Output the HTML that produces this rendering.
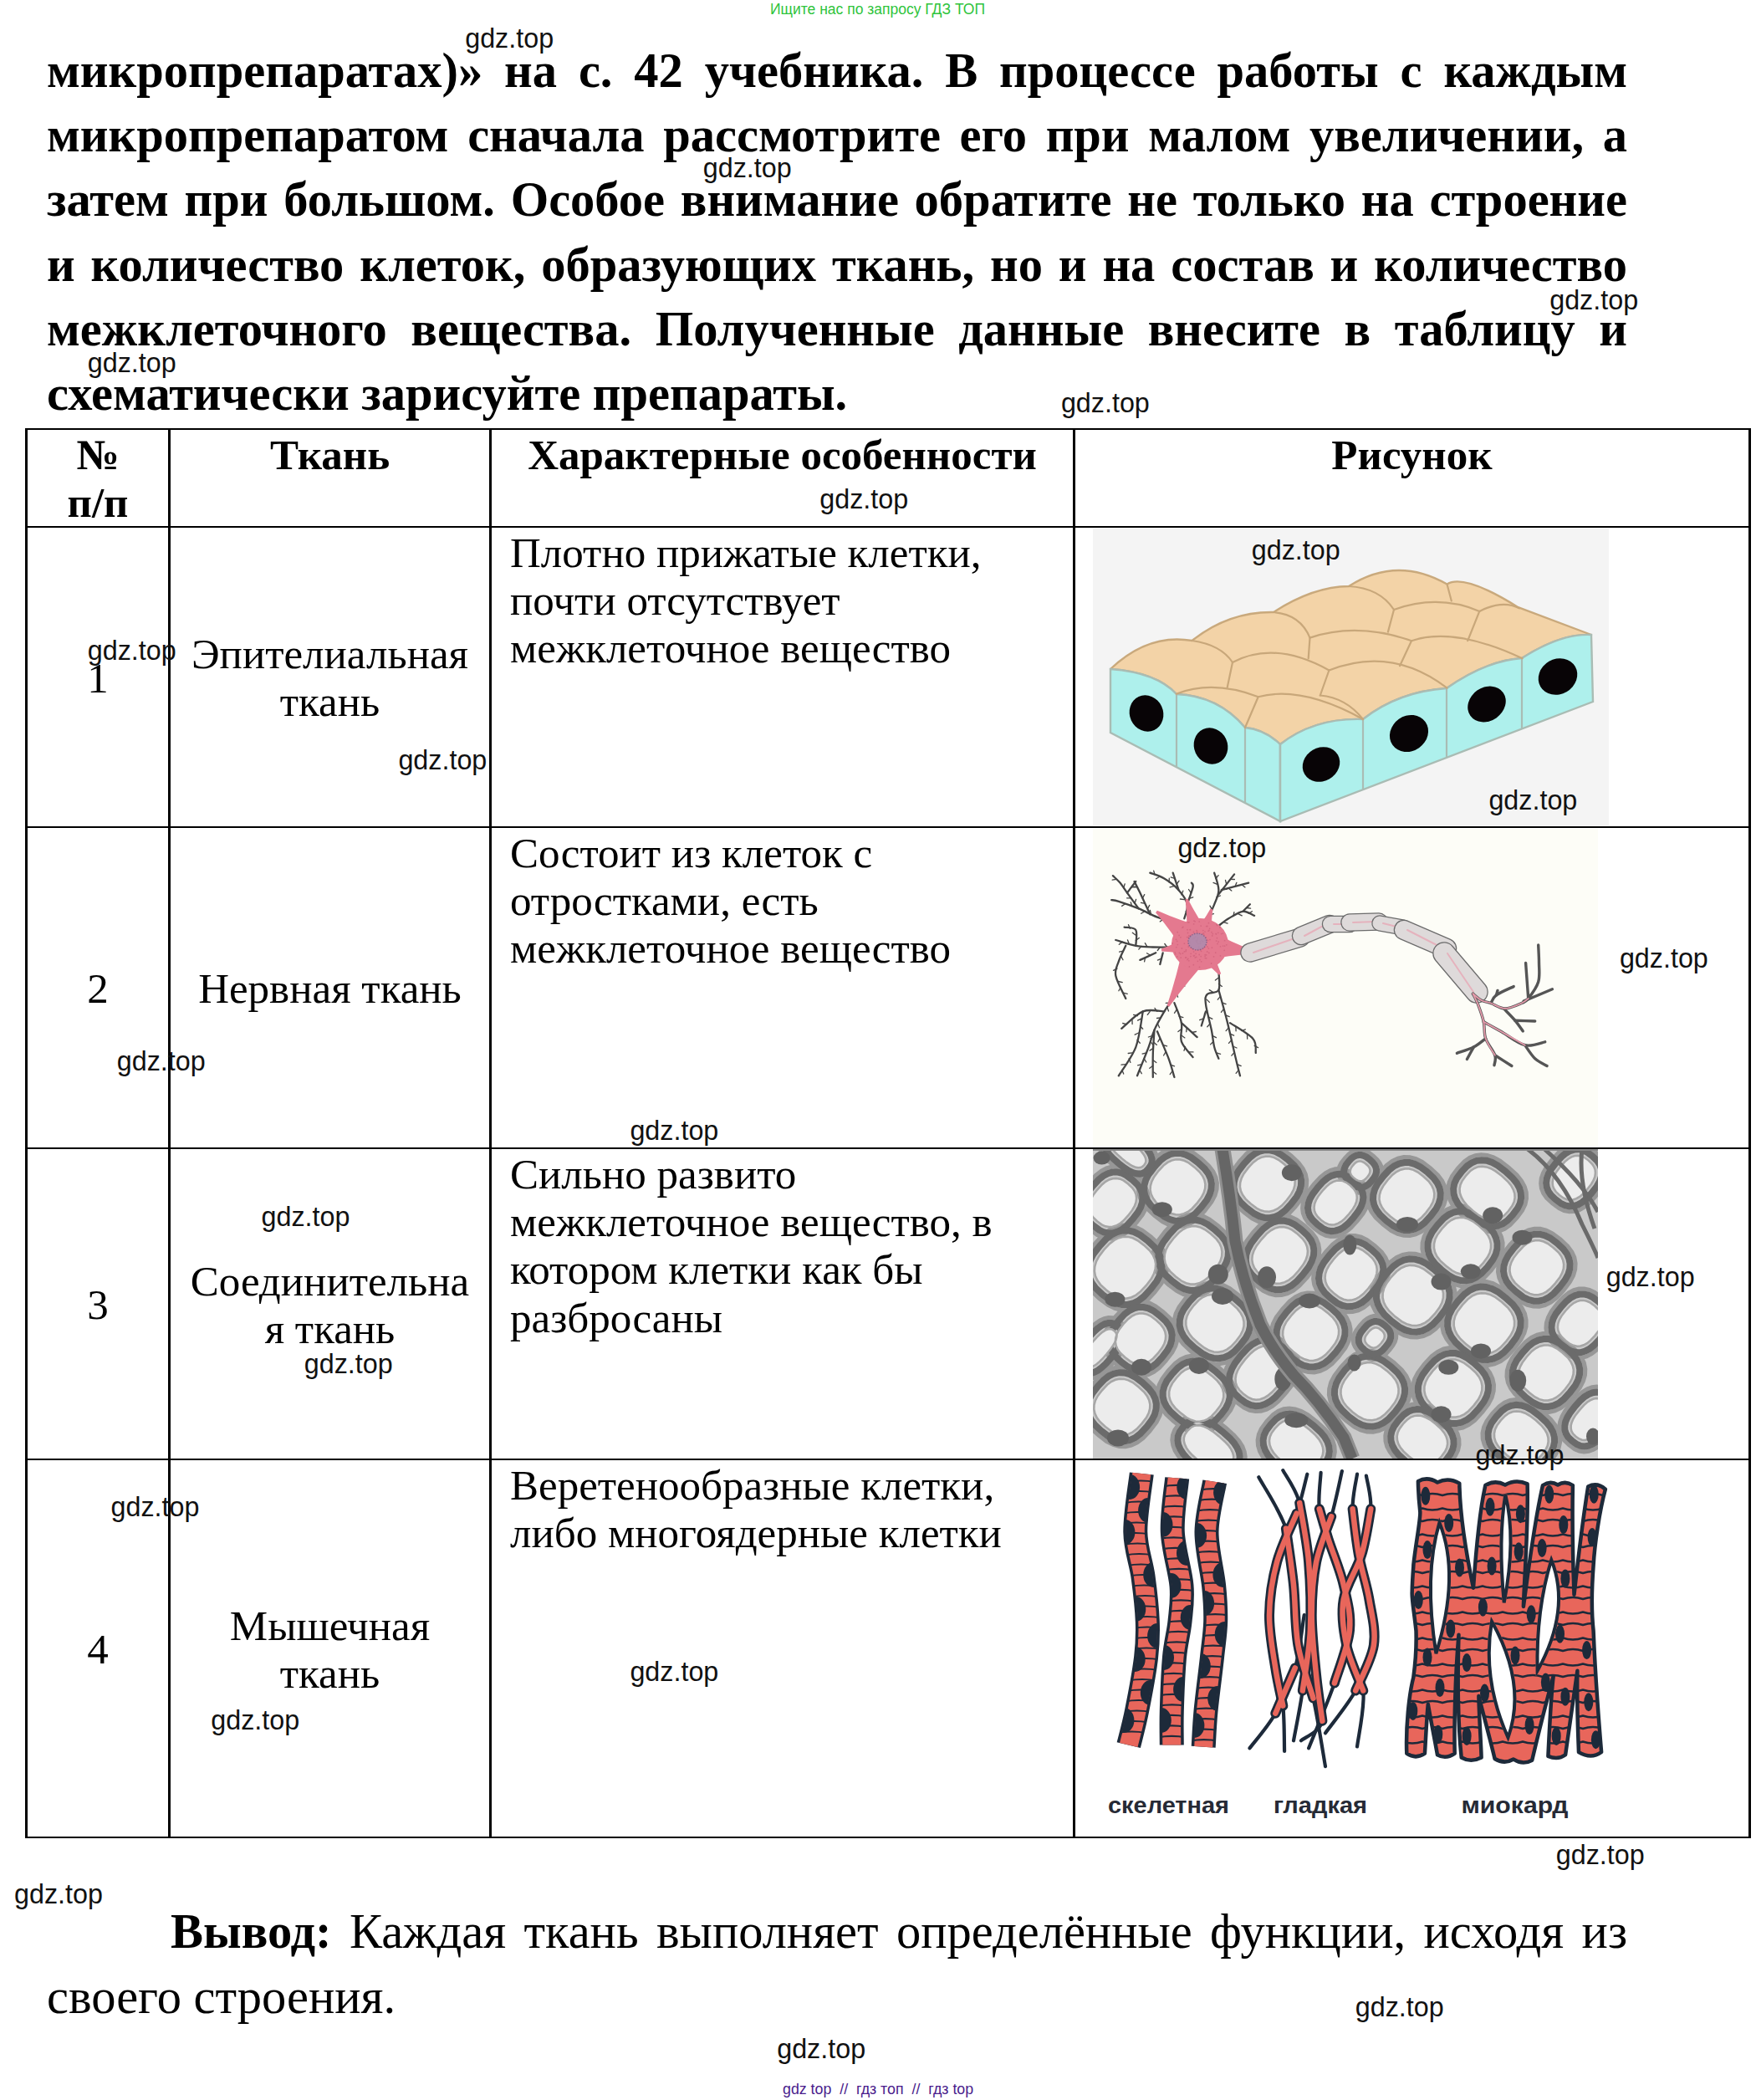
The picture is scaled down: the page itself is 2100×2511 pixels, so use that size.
<!DOCTYPE html>
<html><head><meta charset="utf-8">
<style>
html,body{margin:0;padding:0;background:#fff;}
body{width:2100px;height:2511px;position:relative;overflow:hidden;}
.a{position:absolute;white-space:nowrap;}
.p{position:absolute;left:56px;width:1890px;font-family:"Liberation Serif",serif;font-weight:bold;font-size:58.5px;line-height:77px;height:77px;text-align:justify;text-align-last:justify;color:#000;white-space:normal;}
.hl{position:absolute;left:30px;width:2064px;height:2px;background:#000;}
.vl{position:absolute;top:512px;height:1686px;width:3px;background:#000;}
.t{position:absolute;font-family:"Liberation Serif",serif;font-size:51px;line-height:57.2px;color:#000;white-space:nowrap;}
.c{text-align:center;}
.h{font-weight:bold;font-size:51px;}
.w{position:absolute;font-family:"Liberation Sans",sans-serif;font-size:32.3px;line-height:36px;color:#111;white-space:nowrap;}
</style></head><body>
<div class="a" style="left:921px;top:0px;font-family:'Liberation Sans',sans-serif;font-size:17.5px;line-height:22px;color:#2fc43c;">Ищите нас по запросу ГДЗ ТОП</div>

<div class="p" style="top:46px">микропрепаратах)» на с. 42 учебника. В процессе работы с каждым</div>
<div class="p" style="top:123px">микропрепаратом сначала рассмотрите его при малом увеличении, а</div>
<div class="p" style="top:200px">затем при большом. Особое внимание обратите не только на строение</div>
<div class="p" style="top:278px">и количество клеток, образующих ткань, но и на состав и количество</div>
<div class="p" style="top:355px">межклеточного вещества. Полученные данные внесите в таблицу и</div>
<div class="p" style="top:432px;text-align:left;text-align-last:left;">схематически зарисуйте препараты.</div>

<!-- images -->
<div id="img1" class="a" style="left:1307px;top:632px;width:617px;height:355px;"><svg width="617" height="355" viewBox="0 0 617 355">
<rect width="617" height="355" fill="#f4f4f4"/>
<path d="M21,168 Q66.2,125.0 118.6,134.0 Q162.7,99.0 216.0,100.0 Q263.0,69.5 306.0,69.0 Q363.2,32.2 423.5,66.5 Q443.9,53.7 508.6,94.2 L596,127 Q560,125 513,155 Q470,158 423,191 Q365,195 323,228 Q265,226 224,258 Q205,240 182,238 Q150,200 100,198 Q76,172 21,168 Z" fill="#f3d3a7" stroke="#c9a97c" stroke-width="2.4" stroke-linejoin="round"/>
<path d="M21,168 Q76,172 100,198 Q150,200 182,238 Q205,240 224,258 L224,350 L21,244 Z" fill="#aef0ec" stroke="#a9bcb4" stroke-width="2.4"/>
<path d="M224,258 Q265,226 323,228 Q365,195 423,191 Q470,158 513,155 Q560,125 596,127 L598,207 L224,350 Z" fill="#aef0ec" stroke="#a9bcb4" stroke-width="2.4"/>
<g stroke="#a9bcb4" stroke-width="2.2" fill="none">
<path d="M100,198 L100,285"/><path d="M182,238 L182,328"/><path d="M224,258 L224,350"/>
<path d="M323,228 L323,312"/><path d="M423,191 L423,273"/><path d="M513,155 L513,239"/>
</g>
<g stroke="#c8a77a" stroke-width="2.2" fill="none" stroke-linecap="round">
<path d="M118.6,134.0 Q153.2,139.0 167.0,160.0"/><path d="M167.0,160.0 Q217.3,133.2 282.4,169.5"/><path d="M216.0,100.0 Q248.2,102.7 259.5,130.6"/><path d="M259.5,130.6 Q315.8,111.6 381.0,134.2"/><path d="M306.0,69.0 Q343.0,71.0 360.0,97.0"/><path d="M360.0,97.0 Q412.9,78.0 462.3,98.9"/><path d="M462.3,98.9 Q489.9,84.9 510.0,95.3"/><path d="M99.7,197.7 Q143.3,180.6 197.7,201.2"/><path d="M197.7,201.2 Q249.6,187.4 323.0,228.0"/><path d="M282.4,169.5 Q357.1,139.9 423.5,190.6"/><path d="M271.8,199.5 Q302.6,202.2 323.0,228.0"/><path d="M381.0,134.2 Q432.8,117.2 513.5,155.3"/><path d="M423.5,66.5 L428.8,86.5"/><path d="M167.0,160.0 L160.6,190.6"/><path d="M282.4,169.5 L271.8,199.5"/><path d="M259.5,130.6 L257.7,155.3"/><path d="M381.0,134.2 L367.0,164.2"/><path d="M360.0,97.0 L352.9,123.6"/><path d="M462.3,98.9 L448.2,134.2"/><path d="M197.7,201.2 L182.0,238.0"/>
</g>
<g fill="#080406">
<ellipse cx="64" cy="221" rx="20" ry="22" transform="rotate(-25 64 221)"/>
<ellipse cx="141" cy="260" rx="20" ry="22" transform="rotate(-25 141 260)"/>
<ellipse cx="273" cy="282" rx="23" ry="20" transform="rotate(-30 273 282)"/>
<ellipse cx="378" cy="245" rx="24" ry="21" transform="rotate(-35 378 245)"/>
<ellipse cx="471" cy="210" rx="24" ry="20" transform="rotate(-35 471 210)"/>
<ellipse cx="556" cy="177" rx="24" ry="21" transform="rotate(-30 556 177)"/>
</g>
</svg></div>
<div id="img2" class="a" style="left:1307px;top:991px;width:604px;height:380px;"><svg width="604" height="380" viewBox="0 0 604 380">
<rect width="604" height="380" fill="#fdfdf7"/>
<g fill="none" stroke="#444" stroke-linecap="round" stroke-linejoin="round">
<path d="M99.1,112.5 C95.4,111.3 84.3,108.5 76.9,105.6 C69.5,102.8 62.4,98.5 54.7,95.4 C47.0,92.2 36.2,88.5 30.8,86.8 C25.3,85.1 23.6,85.4 22.2,85.1" stroke-width="2.3"/>
<path d="M91.7,110.2 L90.0,105.5" stroke-width="1.3"/>
<path d="M84.3,107.9 L80.2,110.9" stroke-width="1.3"/>
<path d="M69.5,102.2 L68.4,97.3" stroke-width="1.3"/>
<path d="M62.1,98.8 L57.7,101.2" stroke-width="1.3"/>
<path d="M46.7,92.5 L45.2,87.8" stroke-width="1.3"/>
<path d="M38.7,89.7 L34.6,92.4" stroke-width="1.3"/>
<path d="M54.7,95.4 C52.4,92.2 44.7,81.7 41.0,76.6 C37.3,71.5 35.3,68.0 32.5,64.6 C29.6,61.2 25.3,57.5 23.9,56.1" stroke-width="2.3"/>
<path d="M50.1,89.1 L51.6,84.3" stroke-width="1.3"/>
<path d="M45.6,82.9 L40.6,82.8" stroke-width="1.3"/>
<path d="M36.7,70.6 L38.2,65.8" stroke-width="1.3"/>
<path d="M28.2,60.4 L23.2,61.1" stroke-width="1.3"/>
<path d="M41.0,76.6 C42.7,74.3 49.5,65.2 51.3,62.9" stroke-width="2.3"/>
<path d="M46.1,69.8 L51.1,69.8" stroke-width="1.3"/>
<path d="M68.3,102.2 C66.3,97.9 59.5,83.1 56.4,76.6 C53.2,70.0 50.7,65.2 49.5,62.9" stroke-width="2.3"/>
<path d="M65.4,95.8 L67.7,91.4" stroke-width="1.3"/>
<path d="M62.4,89.4 L57.5,88.4" stroke-width="1.3"/>
<path d="M59.4,83.0 L61.7,78.6" stroke-width="1.3"/>
<path d="M53.0,69.8 L48.0,68.9" stroke-width="1.3"/>
<path d="M109.3,107.3 C109.9,104.5 113.9,96.0 112.8,90.3 C111.6,84.6 107.1,78.3 102.5,73.2 C98.0,68.0 91.1,62.9 85.4,59.5 C79.7,56.1 71.2,53.8 68.3,52.7" stroke-width="2.3"/>
<path d="M111.1,98.8 L115.6,96.6" stroke-width="1.3"/>
<path d="M109.3,84.6 L104.4,84.0" stroke-width="1.3"/>
<path d="M105.9,78.9 L107.8,74.2" stroke-width="1.3"/>
<path d="M96.8,68.6 L92.0,69.9" stroke-width="1.3"/>
<path d="M91.1,64.1 L91.3,59.1" stroke-width="1.3"/>
<path d="M79.7,57.2 L75.5,59.8" stroke-width="1.3"/>
<path d="M74.0,54.9 L72.7,50.1" stroke-width="1.3"/>
<path d="M102.5,73.2 C101.4,69.8 96.8,56.1 95.7,52.7" stroke-width="2.3"/>
<path d="M100.2,66.3 L103.1,62.2" stroke-width="1.3"/>
<path d="M98.0,59.5 L93.2,57.9" stroke-width="1.3"/>
<path d="M112.8,90.3 C113.9,86.8 118.7,74.0 119.6,69.8 C120.5,65.5 118.2,65.5 117.9,64.6" stroke-width="2.3"/>
<path d="M115.0,83.4 L119.8,81.8" stroke-width="1.3"/>
<path d="M117.3,76.6 L114.5,72.5" stroke-width="1.3"/>
<path d="M136.7,109.0 C138.1,105.9 142.9,96.2 145.2,90.3 C147.5,84.3 150.4,79.4 150.4,73.2 C150.4,66.9 146.1,56.1 145.2,52.7" stroke-width="2.3"/>
<path d="M139.5,102.8 L144.4,101.7" stroke-width="1.3"/>
<path d="M142.4,96.5 L140.0,92.1" stroke-width="1.3"/>
<path d="M147.8,81.7 L152.5,80.0" stroke-width="1.3"/>
<path d="M148.6,66.3 L144.0,64.4" stroke-width="1.3"/>
<path d="M146.9,59.5 L150.1,55.6" stroke-width="1.3"/>
<path d="M150.4,78.3 C153.5,74.3 166.0,58.4 169.1,54.4" stroke-width="2.3"/>
<path d="M155.0,72.3 L160.0,72.4" stroke-width="1.3"/>
<path d="M159.7,66.3 L158.5,61.5" stroke-width="1.3"/>
<path d="M164.4,60.4 L169.4,60.5" stroke-width="1.3"/>
<path d="M153.8,73.2 C159.2,71.7 180.8,66.1 186.2,64.6" stroke-width="2.3"/>
<path d="M161.9,71.0 L165.8,74.1" stroke-width="1.3"/>
<path d="M170.0,68.9 L171.9,64.3" stroke-width="1.3"/>
<path d="M178.1,66.8 L182.0,69.9" stroke-width="1.3"/>
<path d="M150.4,115.9 C152.3,114.5 157.5,110.2 162.3,107.3 C167.2,104.5 174.3,99.4 179.4,98.8 C184.5,98.2 190.8,103.1 193.1,103.9" stroke-width="2.3"/>
<path d="M156.3,111.6 L161.1,113.1" stroke-width="1.3"/>
<path d="M168.0,104.5 L168.9,99.6" stroke-width="1.3"/>
<path d="M173.7,101.6 L178.2,103.9" stroke-width="1.3"/>
<path d="M186.2,101.4 L190.4,98.7" stroke-width="1.3"/>
<path d="M179.4,98.8 C180.8,97.4 186.5,91.7 187.9,90.3" stroke-width="2.3"/>
<path d="M183.7,94.5 L188.6,95.2" stroke-width="1.3"/>
<path d="M97.4,141.5 C93.1,141.5 79.4,141.8 71.8,141.5 C64.1,141.2 58.7,141.2 51.3,139.8 C43.9,138.4 31.3,134.1 27.3,133.0" stroke-width="2.3"/>
<path d="M88.8,141.5 L85.8,137.5" stroke-width="1.3"/>
<path d="M80.3,141.5 L77.3,145.5" stroke-width="1.3"/>
<path d="M64.9,140.9 L62.3,136.7" stroke-width="1.3"/>
<path d="M58.1,140.4 L54.8,144.1" stroke-width="1.3"/>
<path d="M43.3,137.5 L41.5,132.9" stroke-width="1.3"/>
<path d="M35.3,135.2 L31.3,138.3" stroke-width="1.3"/>
<path d="M39.3,139.8 C37.9,142.9 32.7,152.6 30.8,158.6 C28.8,164.6 25.9,168.3 27.3,175.7 C28.8,183.1 37.3,198.5 39.3,203.0" stroke-width="2.3"/>
<path d="M36.4,146.1 L31.6,147.1" stroke-width="1.3"/>
<path d="M33.6,152.3 L36.0,156.7" stroke-width="1.3"/>
<path d="M29.0,167.1 L24.5,169.3" stroke-width="1.3"/>
<path d="M30.3,182.5 L35.2,183.7" stroke-width="1.3"/>
<path d="M33.3,189.4 L30.9,193.7" stroke-width="1.3"/>
<path d="M36.3,196.2 L41.2,197.3" stroke-width="1.3"/>
<path d="M51.3,139.8 C51.3,136.7 53.5,124.7 51.3,121.0 C49.0,117.3 39.9,118.2 37.6,117.6" stroke-width="2.3"/>
<path d="M51.3,133.5 L55.3,130.5" stroke-width="1.3"/>
<path d="M51.3,127.3 L47.3,124.3" stroke-width="1.3"/>
<path d="M44.4,119.3 L42.5,114.7" stroke-width="1.3"/>
<path d="M75.2,148.3 C72.0,149.8 59.5,155.5 56.4,156.9" stroke-width="2.3"/>
<path d="M68.9,151.2 L64.5,148.8" stroke-width="1.3"/>
<path d="M62.6,154.0 L61.6,158.9" stroke-width="1.3"/>
<path d="M83.7,148.3 C83.1,150.6 80.9,159.7 80.3,162.0" stroke-width="2.3"/>
<path d="M82.0,155.2 L77.4,157.1" stroke-width="1.3"/>
<path d="M116.2,170.6 C112.8,176.0 100.8,195.0 95.7,203.0 C90.6,211.0 89.1,212.1 85.4,218.4 C81.7,224.7 76.6,233.5 73.5,240.6 C70.3,247.7 70.0,252.0 66.6,261.1 C63.2,270.2 55.2,289.6 53.0,295.3" stroke-width="2.3"/>
<path d="M112.1,177.0 L107.1,177.4" stroke-width="1.3"/>
<path d="M108.0,183.5 L109.8,188.2" stroke-width="1.3"/>
<path d="M103.9,190.0 L98.9,190.4" stroke-width="1.3"/>
<path d="M99.8,196.5 L101.6,201.2" stroke-width="1.3"/>
<path d="M92.3,208.1 L87.3,208.4" stroke-width="1.3"/>
<path d="M88.8,213.3 L90.5,218.0" stroke-width="1.3"/>
<path d="M81.4,225.8 L76.5,226.5" stroke-width="1.3"/>
<path d="M77.5,233.2 L79.6,237.7" stroke-width="1.3"/>
<path d="M71.2,247.4 L66.4,249.0" stroke-width="1.3"/>
<path d="M68.9,254.3 L71.8,258.4" stroke-width="1.3"/>
<path d="M63.9,267.9 L59.1,269.2" stroke-width="1.3"/>
<path d="M61.2,274.8 L63.8,279.0" stroke-width="1.3"/>
<path d="M58.4,281.6 L53.6,282.9" stroke-width="1.3"/>
<path d="M55.7,288.4 L58.3,292.7" stroke-width="1.3"/>
<path d="M85.4,218.4 C81.2,218.4 68.3,215.0 59.8,218.4 C51.3,221.8 38.4,235.5 34.2,238.9" stroke-width="2.3"/>
<path d="M76.9,218.4 L73.9,214.4" stroke-width="1.3"/>
<path d="M68.3,218.4 L65.3,222.4" stroke-width="1.3"/>
<path d="M53.4,223.5 L48.6,222.3" stroke-width="1.3"/>
<path d="M47.0,228.6 L47.1,233.6" stroke-width="1.3"/>
<path d="M40.6,233.8 L35.7,232.5" stroke-width="1.3"/>
<path d="M59.8,218.4 C58.4,225.5 56.1,248.3 51.3,261.1 C46.4,273.9 34.2,289.6 30.8,295.3" stroke-width="2.3"/>
<path d="M58.1,226.9 L53.6,229.1" stroke-width="1.3"/>
<path d="M56.4,235.5 L59.7,239.2" stroke-width="1.3"/>
<path d="M54.7,244.0 L50.2,246.2" stroke-width="1.3"/>
<path d="M53.0,252.6 L56.3,256.3" stroke-width="1.3"/>
<path d="M47.2,267.9 L42.2,268.5" stroke-width="1.3"/>
<path d="M43.1,274.8 L44.9,279.4" stroke-width="1.3"/>
<path d="M39.0,281.6 L34.0,282.1" stroke-width="1.3"/>
<path d="M34.9,288.4 L36.7,293.1" stroke-width="1.3"/>
<path d="M73.5,240.6 C73.2,245.4 72.0,260.3 71.8,269.7 C71.5,279.0 71.8,292.4 71.8,297.0" stroke-width="2.3"/>
<path d="M73.0,247.9 L68.9,250.6" stroke-width="1.3"/>
<path d="M72.6,255.1 L76.4,258.4" stroke-width="1.3"/>
<path d="M72.2,262.4 L68.0,265.1" stroke-width="1.3"/>
<path d="M71.8,276.5 L75.8,279.5" stroke-width="1.3"/>
<path d="M71.8,283.3 L67.8,286.3" stroke-width="1.3"/>
<path d="M71.8,290.2 L75.8,293.2" stroke-width="1.3"/>
<path d="M76.9,242.3 C79.2,247.7 87.1,265.7 90.6,274.8 C94.0,283.9 96.2,293.3 97.4,297.0" stroke-width="2.3"/>
<path d="M80.3,250.4 L77.8,254.7" stroke-width="1.3"/>
<path d="M83.7,258.5 L88.6,259.8" stroke-width="1.3"/>
<path d="M87.1,266.7 L84.6,271.0" stroke-width="1.3"/>
<path d="M92.8,282.2 L97.5,283.9" stroke-width="1.3"/>
<path d="M95.1,289.6 L92.2,293.6" stroke-width="1.3"/>
<path d="M97.4,208.1 C98.8,212.1 104.5,224.4 105.9,232.1 C107.4,239.8 103.7,247.4 105.9,254.3 C108.2,261.1 117.3,269.9 119.6,273.1" stroke-width="2.3"/>
<path d="M100.2,216.1 L97.5,220.3" stroke-width="1.3"/>
<path d="M103.1,224.1 L107.9,225.6" stroke-width="1.3"/>
<path d="M105.9,239.5 L101.9,242.5" stroke-width="1.3"/>
<path d="M105.9,246.9 L109.9,249.9" stroke-width="1.3"/>
<path d="M110.5,260.5 L109.0,265.3" stroke-width="1.3"/>
<path d="M115.0,266.8 L120.0,266.9" stroke-width="1.3"/>
<path d="M105.9,232.1 C109.1,234.9 121.6,246.3 124.7,249.1" stroke-width="2.3"/>
<path d="M112.2,237.8 L111.7,242.7" stroke-width="1.3"/>
<path d="M118.5,243.5 L123.4,242.5" stroke-width="1.3"/>
<path d="M150.4,170.6 C150.4,174.3 152.6,188.2 150.4,192.8 C148.1,197.3 139.2,195.0 136.7,197.9 C134.1,200.7 134.1,202.7 135.0,209.9 C135.8,217.0 140.1,232.1 141.8,240.6 C143.5,249.1 143.8,255.4 145.2,261.1 C146.6,266.8 149.5,272.5 150.4,274.8" stroke-width="2.3"/>
<path d="M150.4,178.0 L146.4,181.0" stroke-width="1.3"/>
<path d="M150.4,185.4 L154.4,188.4" stroke-width="1.3"/>
<path d="M143.5,195.3 L139.3,192.6" stroke-width="1.3"/>
<path d="M135.8,203.9 L139.4,207.4" stroke-width="1.3"/>
<path d="M136.7,217.5 L133.4,221.3" stroke-width="1.3"/>
<path d="M138.4,225.2 L142.9,227.3" stroke-width="1.3"/>
<path d="M140.1,232.9 L136.8,236.7" stroke-width="1.3"/>
<path d="M142.9,247.4 L147.4,249.7" stroke-width="1.3"/>
<path d="M144.1,254.3 L140.6,257.9" stroke-width="1.3"/>
<path d="M147.8,267.9 L152.6,269.3" stroke-width="1.3"/>
<path d="M150.4,192.8 C152.1,199.0 157.2,216.7 160.6,230.4 C164.0,244.0 168.3,264.0 170.9,274.8 C173.4,285.6 175.1,291.9 176.0,295.3" stroke-width="2.3"/>
<path d="M152.4,200.3 L149.3,204.2" stroke-width="1.3"/>
<path d="M154.5,207.8 L159.1,209.6" stroke-width="1.3"/>
<path d="M156.5,215.3 L153.4,219.3" stroke-width="1.3"/>
<path d="M158.6,222.8 L163.2,224.7" stroke-width="1.3"/>
<path d="M162.3,237.8 L159.1,241.6" stroke-width="1.3"/>
<path d="M164.0,245.2 L168.6,247.2" stroke-width="1.3"/>
<path d="M165.7,252.6 L162.5,256.4" stroke-width="1.3"/>
<path d="M167.4,260.0 L172.0,262.0" stroke-width="1.3"/>
<path d="M169.1,267.4 L165.9,271.2" stroke-width="1.3"/>
<path d="M172.6,281.6 L177.2,283.6" stroke-width="1.3"/>
<path d="M174.3,288.4 L171.1,292.3" stroke-width="1.3"/>
<path d="M164.0,232.1 C168.6,235.2 186.2,244.9 191.4,250.9 C196.5,256.8 194.2,265.1 194.8,267.9" stroke-width="2.3"/>
<path d="M170.9,236.8 L171.1,241.8" stroke-width="1.3"/>
<path d="M177.7,241.5 L182.4,239.9" stroke-width="1.3"/>
<path d="M184.5,246.2 L184.7,251.2" stroke-width="1.3"/>
<path d="M193.1,259.4 L197.6,261.6" stroke-width="1.3"/>
<path d="M135.0,218.4 C134.1,221.2 130.7,232.6 129.8,235.5" stroke-width="2.3"/>
<path d="M132.4,226.9 L127.7,228.7" stroke-width="1.3"/>
</g>
<g fill="#e4798f">
<path d="M135.2,118.4 Q104.2,110.1 76.9,97.8 L75.1,100.2 Q94.6,123.0 111.2,150.4 Z"/>
<path d="M140.7,128.0 Q125.0,106.6 113.4,83.6 L110.6,84.4 Q113.4,110.0 111.9,136.5 Z"/>
<path d="M142.2,136.4 Q140.6,116.5 143.4,96.5 L140.6,95.5 Q130.8,113.3 117.6,128.2 Z"/>
<path d="M120.0,125.1 Q101.9,136.3 81.8,143.5 L82.2,146.5 Q103.5,147.4 124.2,152.7 Z"/>
<path d="M109.2,135.1 Q100.7,175.4 88.7,211.3 L91.3,212.7 Q113.5,182.0 141.3,151.6 Z"/>
<path d="M120.5,150.2 Q136.9,160.7 150.8,174.8 L153.2,173.2 Q145.5,154.9 142.1,135.8 Z"/>
<path d="M131.1,157.7 Q163.2,151.0 193.8,149.5 L194.2,146.5 Q165.4,136.0 136.8,120.1 Z"/>
<ellipse cx="128" cy="138" rx="34" ry="31"/>
</g>
<g fill="#c95a74" opacity="0.55">
<circle cx="129.7" cy="158.8" r="0.9"/>
<circle cx="111.3" cy="154.2" r="0.9"/>
<circle cx="123.5" cy="133.8" r="0.9"/>
<circle cx="157.6" cy="140.2" r="0.9"/>
<circle cx="127.2" cy="150.5" r="0.9"/>
<circle cx="149.0" cy="137.5" r="0.9"/>
<circle cx="138.9" cy="121.5" r="0.9"/>
<circle cx="121.2" cy="130.6" r="0.9"/>
<circle cx="107.9" cy="117.3" r="0.9"/>
<circle cx="100.7" cy="134.4" r="0.9"/>
<circle cx="125.0" cy="132.9" r="0.9"/>
<circle cx="129.2" cy="116.1" r="0.9"/>
<circle cx="126.7" cy="141.5" r="0.9"/>
<circle cx="142.0" cy="123.7" r="0.9"/>
<circle cx="122.1" cy="110.8" r="0.9"/>
<circle cx="121.0" cy="110.2" r="0.9"/>
<circle cx="105.2" cy="154.1" r="0.9"/>
<circle cx="98.2" cy="147.8" r="0.9"/>
<circle cx="133.9" cy="132.9" r="0.9"/>
<circle cx="136.7" cy="147.0" r="0.9"/>
<circle cx="147.6" cy="134.1" r="0.9"/>
<circle cx="116.8" cy="127.6" r="0.9"/>
<circle cx="109.4" cy="137.2" r="0.9"/>
<circle cx="113.8" cy="155.5" r="0.9"/>
<circle cx="101.2" cy="123.7" r="0.9"/>
<circle cx="114.9" cy="111.9" r="0.9"/>
<circle cx="148.3" cy="114.6" r="0.9"/>
<circle cx="122.7" cy="129.1" r="0.9"/>
<circle cx="148.7" cy="115.5" r="0.9"/>
<circle cx="147.4" cy="125.9" r="0.9"/>
<circle cx="125.1" cy="126.5" r="0.9"/>
<circle cx="139.6" cy="119.3" r="0.9"/>
<circle cx="126.6" cy="143.6" r="0.9"/>
<circle cx="147.9" cy="114.3" r="0.9"/>
<circle cx="152.5" cy="151.9" r="0.9"/>
<circle cx="119.0" cy="143.1" r="0.9"/>
<circle cx="120.3" cy="162.7" r="0.9"/>
<circle cx="131.5" cy="134.7" r="0.9"/>
<circle cx="124.1" cy="134.9" r="0.9"/>
<circle cx="124.6" cy="122.9" r="0.9"/>
<circle cx="151.9" cy="117.8" r="0.9"/>
<circle cx="95.0" cy="137.0" r="0.9"/>
<circle cx="125.4" cy="144.0" r="0.9"/>
<circle cx="124.7" cy="135.8" r="0.9"/>
<circle cx="134.3" cy="154.6" r="0.9"/>
<circle cx="119.7" cy="131.7" r="0.9"/>
<circle cx="157.2" cy="145.3" r="0.9"/>
<circle cx="115.4" cy="164.9" r="0.9"/>
<circle cx="142.7" cy="127.9" r="0.9"/>
<circle cx="106.4" cy="143.0" r="0.9"/>
<circle cx="113.0" cy="120.7" r="0.9"/>
<circle cx="104.9" cy="129.8" r="0.9"/>
<circle cx="148.4" cy="130.7" r="0.9"/>
<circle cx="103.4" cy="148.3" r="0.9"/>
<circle cx="129.2" cy="152.6" r="0.9"/>
<circle cx="150.1" cy="135.2" r="0.9"/>
<circle cx="125.8" cy="137.4" r="0.9"/>
<circle cx="107.5" cy="149.0" r="0.9"/>
<circle cx="152.5" cy="140.8" r="0.9"/>
<circle cx="123.9" cy="133.9" r="0.9"/>
<circle cx="113.5" cy="124.4" r="0.9"/>
<circle cx="120.4" cy="123.5" r="0.9"/>
<circle cx="120.6" cy="113.9" r="0.9"/>
<circle cx="134.1" cy="138.8" r="0.9"/>
<circle cx="113.5" cy="111.8" r="0.9"/>
<circle cx="127.9" cy="156.7" r="0.9"/>
<circle cx="114.1" cy="129.7" r="0.9"/>
<circle cx="117.2" cy="149.3" r="0.9"/>
<circle cx="111.5" cy="154.1" r="0.9"/>
<circle cx="122.3" cy="153.9" r="0.9"/>
<circle cx="128.5" cy="134.6" r="0.9"/>
<circle cx="103.1" cy="127.5" r="0.9"/>
<circle cx="123.1" cy="149.3" r="0.9"/>
<circle cx="132.6" cy="126.0" r="0.9"/>
<circle cx="135.7" cy="154.8" r="0.9"/>
<circle cx="125.3" cy="130.8" r="0.9"/>
<circle cx="120.5" cy="152.0" r="0.9"/>
<circle cx="138.1" cy="122.2" r="0.9"/>
<circle cx="135.0" cy="129.9" r="0.9"/>
<circle cx="114.8" cy="157.8" r="0.9"/>
<circle cx="143.3" cy="125.7" r="0.9"/>
<circle cx="129.5" cy="146.3" r="0.9"/>
<circle cx="116.0" cy="135.9" r="0.9"/>
<circle cx="138.4" cy="112.7" r="0.9"/>
<circle cx="134.2" cy="150.7" r="0.9"/>
<circle cx="136.9" cy="116.5" r="0.9"/>
<circle cx="134.0" cy="123.1" r="0.9"/>
<circle cx="138.8" cy="148.4" r="0.9"/>
<circle cx="132.1" cy="124.8" r="0.9"/>
<circle cx="116.9" cy="152.6" r="0.9"/>
<circle cx="111.1" cy="146.5" r="0.9"/>
<circle cx="137.5" cy="133.3" r="0.9"/>
<circle cx="159.8" cy="138.8" r="0.9"/>
<circle cx="151.9" cy="117.6" r="0.9"/>
<circle cx="98.7" cy="149.7" r="0.9"/>
<circle cx="140.0" cy="132.6" r="0.9"/>
<circle cx="127.2" cy="111.1" r="0.9"/>
<circle cx="116.4" cy="120.7" r="0.9"/>
<circle cx="123.8" cy="153.3" r="0.9"/>
<circle cx="128.9" cy="143.9" r="0.9"/>
<circle cx="114.8" cy="130.5" r="0.9"/>
<circle cx="129.9" cy="133.7" r="0.9"/>
<circle cx="149.8" cy="124.3" r="0.9"/>
<circle cx="155.4" cy="125.1" r="0.9"/>
<circle cx="147.2" cy="125.3" r="0.9"/>
<circle cx="155.6" cy="140.1" r="0.9"/>
<circle cx="135.6" cy="150.8" r="0.9"/>
<circle cx="116.3" cy="120.6" r="0.9"/>
<circle cx="100.8" cy="152.9" r="0.9"/>
<circle cx="114.8" cy="127.8" r="0.9"/>
<circle cx="127.5" cy="165.4" r="0.9"/>
<circle cx="99.8" cy="141.7" r="0.9"/>
<circle cx="120.6" cy="147.1" r="0.9"/>
<circle cx="99.5" cy="132.3" r="0.9"/>
<circle cx="141.6" cy="161.0" r="0.9"/>
<circle cx="153.6" cy="125.6" r="0.9"/>
<circle cx="128.8" cy="136.6" r="0.9"/>
<circle cx="107.1" cy="118.2" r="0.9"/>
<circle cx="142.4" cy="142.2" r="0.9"/>
<circle cx="125.4" cy="158.3" r="0.9"/>
<circle cx="109.4" cy="146.9" r="0.9"/>
<circle cx="128.1" cy="137.3" r="0.9"/>
<circle cx="137.0" cy="140.9" r="0.9"/>
<circle cx="132.7" cy="142.2" r="0.9"/>
<circle cx="157.6" cy="133.7" r="0.9"/>
<circle cx="146.7" cy="148.2" r="0.9"/>
<circle cx="121.4" cy="151.7" r="0.9"/>
<circle cx="112.9" cy="156.6" r="0.9"/>
<circle cx="112.7" cy="129.6" r="0.9"/>
<circle cx="134.1" cy="152.3" r="0.9"/>
<circle cx="144.5" cy="152.8" r="0.9"/>
<circle cx="124.1" cy="121.6" r="0.9"/>
<circle cx="138.3" cy="143.1" r="0.9"/>
<circle cx="110.9" cy="153.9" r="0.9"/>
<circle cx="131.8" cy="121.6" r="0.9"/>
<circle cx="135.8" cy="116.6" r="0.9"/>
<circle cx="111.4" cy="144.9" r="0.9"/>
<circle cx="101.3" cy="138.6" r="0.9"/>
<circle cx="104.7" cy="149.5" r="0.9"/>
<circle cx="114.2" cy="141.1" r="0.9"/>
</g>
<ellipse cx="125" cy="135" rx="11" ry="10" fill="#a88db0" opacity="0.8"/>
<ellipse cx="125" cy="135" rx="11" ry="10" fill="none" stroke="#7a5a86" stroke-width="1.5" stroke-dasharray="1.5 1.5" opacity="0.8"/>
<path d="M188.0,148.0 L248.0,130.0" stroke="#6c6c6c" stroke-width="23.5" stroke-linecap="round"/>
<path d="M188.0,148.0 L248.0,130.0" stroke="#dedada" stroke-width="21.0" stroke-linecap="round"/>
<path d="M192.0,148.0 L244.0,130.0" stroke="#e7a9b6" stroke-width="2" stroke-linecap="round" opacity="0.8"/>
<path d="M249.0,128.0 L283.0,114.0" stroke="#6c6c6c" stroke-width="22.5" stroke-linecap="round"/>
<path d="M249.0,128.0 L283.0,114.0" stroke="#dedada" stroke-width="20.0" stroke-linecap="round"/>
<path d="M253.0,128.0 L279.0,114.0" stroke="#e7a9b6" stroke-width="2" stroke-linecap="round" opacity="0.8"/>
<path d="M284.0,114.0 L307.0,114.0" stroke="#6c6c6c" stroke-width="20.5" stroke-linecap="round"/>
<path d="M284.0,114.0 L307.0,114.0" stroke="#dedada" stroke-width="18.0" stroke-linecap="round"/>
<path d="M288.0,114.0 L303.0,114.0" stroke="#e7a9b6" stroke-width="2" stroke-linecap="round" opacity="0.8"/>
<path d="M307.0,112.0 L342.0,111.0" stroke="#6c6c6c" stroke-width="21.5" stroke-linecap="round"/>
<path d="M307.0,112.0 L342.0,111.0" stroke="#dedada" stroke-width="19.0" stroke-linecap="round"/>
<path d="M311.0,112.0 L338.0,111.0" stroke="#e7a9b6" stroke-width="2" stroke-linecap="round" opacity="0.8"/>
<path d="M343.0,113.0 L371.0,118.0" stroke="#6c6c6c" stroke-width="19.5" stroke-linecap="round"/>
<path d="M343.0,113.0 L371.0,118.0" stroke="#dedada" stroke-width="17.0" stroke-linecap="round"/>
<path d="M347.0,113.0 L367.0,118.0" stroke="#e7a9b6" stroke-width="2" stroke-linecap="round" opacity="0.8"/>
<path d="M372.0,121.0 L423.0,143.0" stroke="#6c6c6c" stroke-width="24.5" stroke-linecap="round"/>
<path d="M372.0,121.0 L423.0,143.0" stroke="#dedada" stroke-width="22.0" stroke-linecap="round"/>
<path d="M376.0,121.0 L419.0,143.0" stroke="#e7a9b6" stroke-width="2" stroke-linecap="round" opacity="0.8"/>
<path d="M420.0,149.0 L459.0,195.0" stroke="#6c6c6c" stroke-width="27.5" stroke-linecap="round"/>
<path d="M420.0,149.0 L459.0,195.0" stroke="#dedada" stroke-width="25.0" stroke-linecap="round"/>
<path d="M424.0,149.0 L455.0,195.0" stroke="#e7a9b6" stroke-width="2" stroke-linecap="round" opacity="0.8"/>
<g fill="none" stroke-linecap="round" stroke-linejoin="round">
<path d="M454.5,197.3 C456.2,198.6 461.3,203.4 464.9,205.3 C468.5,207.2 471.4,206.9 476.0,208.5 C480.6,210.1 486.7,214.9 492.8,214.9 C498.9,214.9 508.1,210.5 512.7,208.5 C517.4,206.5 517.4,207.2 520.7,202.9 C524.0,198.7 530.6,190.2 532.7,183.0 C534.8,175.8 533.5,167.3 533.5,160.0 C533.5,152.7 532.8,142.5 532.7,139.0" stroke="#555" stroke-width="3.4"/>
<path d="M476.0,208.5 C477.1,206.9 477.9,202.2 482.4,198.9 C486.9,195.6 499.7,190.3 503.2,188.6" stroke="#555" stroke-width="3.4"/>
<path d="M482.4,198.9 C482.7,198.0 483.7,194.3 484.0,193.4" stroke="#555" stroke-width="3.4"/>
<path d="M515.1,206.1 C520.8,203.7 543.7,194.2 549.4,191.8" stroke="#555" stroke-width="3.4"/>
<path d="M492.0,215.7 C494.1,217.9 501.1,224.8 504.8,229.2 C508.5,233.6 512.7,239.9 514.3,242.0" stroke="#555" stroke-width="3.4"/>
<path d="M504.8,229.2 C508.8,229.3 524.7,229.9 528.7,230.0" stroke="#555" stroke-width="3.4"/>
<path d="M454.5,197.3 C455.6,199.6 458.8,205.3 460.9,210.9 C463.0,216.5 465.8,224.2 467.3,230.8 C468.8,237.5 467.4,244.2 469.7,250.8 C471.9,257.4 479.1,265.4 480.8,270.7 C482.5,276.0 480.1,280.7 480.0,282.7" stroke="#555" stroke-width="3.4"/>
<path d="M469.7,250.8 C467.3,252.5 461.0,258.2 455.3,261.1 C449.6,264.0 438.7,267.1 435.4,268.3" stroke="#555" stroke-width="3.4"/>
<path d="M455.3,261.1 C454.0,263.5 448.7,273.1 447.4,275.5" stroke="#555" stroke-width="3.4"/>
<path d="M480.8,270.7 C484.1,272.8 497.5,281.4 500.8,283.5" stroke="#555" stroke-width="3.4"/>
<path d="M467.3,230.8 C470.9,232.8 480.6,238.2 488.8,242.8 C497.0,247.5 508.1,256.7 516.7,258.7 C525.4,260.7 536.7,255.5 540.7,254.8" stroke="#555" stroke-width="3.4"/>
<path d="M516.7,258.7 C518.7,261.4 524.3,270.6 528.7,274.7 C533.1,278.8 540.6,282.0 543.0,283.5" stroke="#555" stroke-width="3.4"/>
<path d="M520.7,202.9 C520.2,195.8 518.1,167.5 517.6,160.4" stroke="#555" stroke-width="3.4"/>
<path d="M454.5,197.3 C456.2,198.6 461.3,203.4 464.9,205.3 C468.5,207.2 471.4,206.9 476.0,208.5 C480.6,210.1 486.7,214.9 492.8,214.9 C498.9,214.9 508.1,210.5 512.7,208.5 C517.4,206.5 519.4,203.8 520.7,202.9" stroke="#e59aab" stroke-width="1.8"/>
<path d="M454.5,197.3 C455.6,199.6 458.8,205.3 460.9,210.9 C463.0,216.5 465.8,224.2 467.3,230.8 C468.8,237.5 467.4,244.2 469.7,250.8 C471.9,257.4 478.9,267.4 480.8,270.7" stroke="#e59aab" stroke-width="1.8"/>
<path d="M467.3,230.8 C470.9,232.8 480.6,238.2 488.8,242.8 C497.0,247.5 512.1,256.1 516.7,258.7" stroke="#e59aab" stroke-width="1.8"/>
</g></svg></div>
<div id="img3" class="a" style="left:1307px;top:1374px;width:604px;height:370px;"><svg width="604" height="370" viewBox="0 0 604 370">
<rect width="604" height="370" fill="#c9c9c9"/>
<g fill="none" stroke="#979797" stroke-width="5"><path d="M52.0,87.8 L43.9,96.6 L37.5,101.7 L31.1,105.1 L24.7,106.9 L18.3,107.0 L11.8,105.6 L5.2,102.5 L-3.3,96.2 L-11.0,88.9 L-15.2,82.9 L-17.8,76.8 L-18.7,70.4 L-18.1,63.8 L-15.9,57.0 L-11.9,49.7 L-4.6,40.2 L3.5,31.4 L9.9,26.3 L16.3,22.9 L22.7,21.1 L29.1,21.0 L35.6,22.4 L42.2,25.5 L50.7,31.8 L58.4,39.1 L62.6,45.1 L65.2,51.2 L66.1,57.6 L65.5,64.2 L63.3,71.0 L59.3,78.3Z"/><path d="M134.4,73.0 L125.9,82.2 L119.0,87.5 L112.1,90.8 L105.1,92.4 L97.9,92.2 L90.6,90.3 L83.0,86.5 L73.2,79.1 L64.3,70.7 L59.2,63.9 L56.0,57.1 L54.6,50.0 L54.9,42.9 L57.0,35.5 L61.0,27.8 L68.6,17.8 L77.1,8.6 L84.0,3.3 L90.9,-0.0 L97.9,-1.6 L105.1,-1.4 L112.4,0.5 L120.0,4.3 L129.8,11.7 L138.7,20.1 L143.8,26.9 L147.0,33.7 L148.4,40.8 L148.1,47.9 L146.0,55.3 L142.0,63.0Z"/><path d="M241.7,69.3 L233.2,78.5 L226.3,83.8 L219.4,87.1 L212.4,88.7 L205.2,88.5 L197.9,86.6 L190.3,82.8 L180.5,75.4 L171.6,67.0 L166.5,60.2 L163.3,53.4 L161.9,46.3 L162.2,39.2 L164.3,31.8 L168.3,24.1 L175.9,14.1 L184.4,4.9 L191.3,-0.4 L198.2,-3.7 L205.2,-5.3 L212.4,-5.1 L219.7,-3.2 L227.3,0.6 L237.1,8.0 L246.0,16.4 L251.1,23.2 L254.3,30.0 L255.7,37.1 L255.4,44.2 L253.3,51.6 L249.3,59.3Z"/><path d="M316.2,85.9 L308.5,94.2 L302.4,99.2 L296.4,102.5 L290.5,104.2 L284.5,104.5 L278.4,103.3 L272.3,100.4 L264.5,94.6 L257.5,88.0 L253.6,82.4 L251.3,76.7 L250.6,70.7 L251.2,64.5 L253.4,58.1 L257.2,51.2 L264.2,42.1 L271.9,33.8 L278.0,28.8 L284.0,25.5 L289.9,23.8 L295.9,23.5 L302.0,24.7 L308.1,27.6 L315.9,33.4 L322.9,40.0 L326.8,45.6 L329.1,51.3 L329.8,57.3 L329.2,63.5 L327.0,69.9 L323.2,76.8Z"/><path d="M408.3,84.1 L399.8,93.3 L392.9,98.6 L386.0,101.9 L379.0,103.5 L371.8,103.3 L364.5,101.4 L356.9,97.6 L347.1,90.2 L338.2,81.8 L333.1,75.0 L329.9,68.2 L328.5,61.1 L328.8,54.0 L330.9,46.6 L334.9,38.9 L342.5,28.9 L351.0,19.7 L357.9,14.4 L364.8,11.1 L371.8,9.5 L379.0,9.7 L386.3,11.6 L393.9,15.4 L403.7,22.8 L412.6,31.2 L417.7,38.0 L420.9,44.8 L422.3,51.9 L422.0,59.0 L419.9,66.4 L415.9,74.1Z"/><path d="M506.8,82.4 L499.0,90.6 L492.5,95.3 L485.8,98.0 L478.9,98.9 L471.7,98.2 L464.2,95.8 L456.3,91.4 L445.9,83.4 L436.2,74.6 L430.6,67.5 L426.9,60.6 L424.9,53.6 L424.7,46.6 L426.2,39.6 L429.6,32.4 L436.4,23.2 L444.2,15.0 L450.7,10.3 L457.4,7.6 L464.3,6.7 L471.5,7.4 L479.0,9.8 L486.9,14.2 L497.3,22.2 L507.0,31.0 L512.6,38.1 L516.3,45.0 L518.3,52.0 L518.5,59.0 L517.0,66.0 L513.6,73.2Z"/><path d="M601.3,56.2 L593.6,64.5 L587.5,69.5 L581.5,72.8 L575.6,74.5 L569.6,74.8 L563.5,73.6 L557.4,70.7 L549.6,64.9 L542.6,58.3 L538.7,52.7 L536.4,47.0 L535.7,41.0 L536.3,34.8 L538.5,28.4 L542.3,21.5 L549.3,12.4 L557.0,4.1 L563.1,-0.9 L569.1,-4.2 L575.0,-5.9 L581.0,-6.2 L587.1,-5.0 L593.2,-2.1 L601.0,3.7 L608.0,10.3 L611.9,15.9 L614.2,21.6 L614.9,27.6 L614.3,33.8 L612.1,40.2 L608.3,47.1Z"/><path d="M73.7,171.3 L64.4,181.3 L56.9,187.1 L49.4,190.8 L41.9,192.5 L34.2,192.4 L26.3,190.4 L18.1,186.3 L7.6,178.5 L-1.9,169.5 L-7.4,162.2 L-10.7,154.8 L-12.1,147.2 L-11.7,139.4 L-9.4,131.4 L-5.0,123.0 L3.3,112.1 L12.6,102.1 L20.1,96.3 L27.6,92.6 L35.1,90.9 L42.8,91.0 L50.7,93.0 L58.9,97.1 L69.4,104.9 L78.9,113.9 L84.4,121.2 L87.7,128.6 L89.1,136.2 L88.7,144.0 L86.4,152.0 L82.0,160.4Z"/><path d="M153.7,155.2 L144.8,164.8 L137.6,170.3 L130.4,173.9 L123.2,175.6 L115.8,175.5 L108.3,173.6 L100.5,169.7 L90.4,162.1 L81.3,153.6 L76.1,146.5 L72.9,139.5 L71.5,132.2 L71.9,124.8 L74.2,117.1 L78.4,109.1 L86.3,98.6 L95.2,89.0 L102.4,83.5 L109.6,79.9 L116.8,78.2 L124.2,78.3 L131.7,80.2 L139.5,84.1 L149.6,91.7 L158.7,100.2 L163.9,107.3 L167.1,114.3 L168.5,121.6 L168.1,129.0 L165.8,136.7 L161.6,144.7Z"/><path d="M255.8,153.9 L246.9,163.5 L239.7,169.1 L232.7,172.7 L225.6,174.6 L218.4,174.7 L211.1,173.0 L203.6,169.3 L194.0,162.1 L185.3,153.9 L180.4,147.2 L177.5,140.3 L176.3,133.2 L176.9,125.9 L179.2,118.3 L183.5,110.3 L191.4,99.9 L200.3,90.3 L207.5,84.7 L214.5,81.1 L221.6,79.2 L228.8,79.1 L236.1,80.8 L243.6,84.5 L253.2,91.7 L261.9,99.9 L266.8,106.6 L269.7,113.5 L270.9,120.6 L270.3,127.9 L268.0,135.5 L263.7,143.5Z"/><path d="M339.3,174.8 L330.8,184.0 L324.0,189.4 L317.3,192.9 L310.5,194.6 L303.7,194.7 L296.7,193.1 L289.6,189.6 L280.4,182.8 L272.1,175.0 L267.5,168.5 L264.7,162.0 L263.6,155.2 L264.1,148.2 L266.4,141.0 L270.5,133.4 L278.1,123.4 L286.6,114.2 L293.4,108.8 L300.1,105.3 L306.9,103.6 L313.7,103.5 L320.7,105.1 L327.8,108.6 L337.0,115.4 L345.3,123.2 L349.9,129.7 L352.7,136.2 L353.8,143.0 L353.3,150.0 L351.0,157.2 L346.9,164.8Z"/><path d="M418.8,205.2 L409.9,214.8 L402.6,220.3 L395.2,223.6 L387.7,225.1 L380.1,224.8 L372.2,222.6 L363.9,218.3 L353.2,210.2 L343.4,201.1 L337.8,193.7 L334.2,186.4 L332.6,178.9 L332.7,171.2 L334.8,163.4 L338.9,155.3 L346.8,144.8 L355.7,135.2 L363.0,129.7 L370.4,126.4 L377.9,124.9 L385.5,125.2 L393.4,127.4 L401.7,131.7 L412.4,139.8 L422.2,148.9 L427.8,156.3 L431.4,163.6 L433.0,171.1 L432.9,178.8 L430.8,186.6 L426.7,194.7Z"/><path d="M476.5,144.7 L467.9,153.9 L460.9,159.1 L453.9,162.3 L446.7,163.8 L439.4,163.4 L431.9,161.3 L423.9,157.2 L413.7,149.5 L404.3,140.8 L398.9,133.7 L395.5,126.6 L393.9,119.5 L394.1,112.1 L396.1,104.7 L400.0,96.9 L407.5,86.9 L416.1,77.7 L423.1,72.5 L430.1,69.3 L437.3,67.8 L444.6,68.2 L452.1,70.3 L460.1,74.4 L470.3,82.1 L479.7,90.8 L485.1,97.9 L488.5,105.0 L490.1,112.1 L489.9,119.5 L487.9,126.9 L484.0,134.7Z"/><path d="M563.0,168.7 L554.5,177.9 L547.6,183.2 L540.7,186.6 L533.8,188.2 L526.7,188.1 L519.6,186.3 L512.1,182.6 L502.5,175.4 L493.8,167.2 L488.8,160.5 L485.8,153.8 L484.5,146.8 L484.9,139.7 L487.0,132.4 L491.1,124.7 L498.6,114.7 L507.1,105.5 L514.0,100.2 L520.9,96.8 L527.8,95.2 L534.9,95.3 L542.0,97.1 L549.5,100.8 L559.1,108.0 L567.8,116.2 L572.8,122.9 L575.8,129.6 L577.1,136.6 L576.7,143.7 L574.6,151.0 L570.5,158.7Z"/><path d="M610.3,231.4 L602.6,239.8 L596.4,244.7 L590.3,247.9 L584.1,249.5 L577.9,249.6 L571.7,248.2 L565.2,245.1 L557.0,238.9 L549.5,231.9 L545.3,226.1 L542.8,220.2 L541.9,214.0 L542.4,207.7 L544.5,201.2 L548.2,194.2 L555.1,185.2 L562.8,176.8 L569.0,171.9 L575.1,168.7 L581.3,167.1 L587.5,167.0 L593.7,168.4 L600.2,171.5 L608.4,177.7 L615.9,184.7 L620.1,190.5 L622.6,196.4 L623.5,202.6 L623.0,208.9 L620.9,215.4 L617.2,222.4Z"/><path d="M87.6,252.5 L79.5,261.3 L72.9,266.4 L66.4,269.6 L59.8,271.1 L53.1,271.1 L46.2,269.4 L39.1,265.8 L30.0,259.0 L21.7,251.2 L17.0,244.8 L14.1,238.4 L12.8,231.8 L13.2,225.0 L15.3,218.0 L19.1,210.6 L26.4,201.1 L34.5,192.3 L41.1,187.2 L47.6,184.0 L54.2,182.5 L60.9,182.5 L67.8,184.2 L74.9,187.8 L84.0,194.6 L92.3,202.4 L97.0,208.8 L99.9,215.2 L101.2,221.8 L100.8,228.6 L98.7,235.6 L94.9,243.0Z"/><path d="M181.1,237.9 L172.6,247.0 L165.5,252.2 L158.5,255.4 L151.2,256.8 L143.8,256.4 L136.1,254.1 L128.1,249.9 L117.6,242.0 L108.0,233.1 L102.5,225.9 L98.9,218.7 L97.2,211.5 L97.3,204.1 L99.2,196.6 L103.1,188.8 L110.7,178.7 L119.2,169.6 L126.3,164.4 L133.3,161.2 L140.6,159.8 L148.0,160.2 L155.7,162.5 L163.7,166.7 L174.2,174.6 L183.8,183.5 L189.3,190.7 L192.9,197.9 L194.6,205.1 L194.5,212.5 L192.6,220.0 L188.7,227.8Z"/><path d="M294.3,247.7 L285.8,256.9 L278.8,262.1 L271.8,265.4 L264.8,266.9 L257.5,266.6 L250.1,264.6 L242.3,260.7 L232.3,253.1 L223.1,244.6 L217.9,237.6 L214.6,230.6 L213.1,223.6 L213.4,216.3 L215.4,208.9 L219.3,201.1 L226.9,191.1 L235.4,181.9 L242.4,176.7 L249.4,173.4 L256.4,171.9 L263.7,172.2 L271.1,174.2 L278.9,178.1 L288.9,185.7 L298.1,194.2 L303.3,201.2 L306.6,208.2 L308.1,215.2 L307.8,222.5 L305.8,229.9 L301.9,237.7Z"/><path d="M503.9,238.5 L495.0,248.1 L487.7,253.6 L480.3,256.9 L472.8,258.4 L465.2,258.1 L457.3,255.9 L449.0,251.6 L438.3,243.5 L428.5,234.4 L422.9,227.0 L419.3,219.7 L417.7,212.2 L417.8,204.5 L419.9,196.7 L424.0,188.6 L431.9,178.1 L440.8,168.5 L448.1,163.0 L455.5,159.7 L463.0,158.2 L470.6,158.5 L478.5,160.7 L486.8,165.0 L497.5,173.1 L507.3,182.2 L512.9,189.6 L516.5,196.9 L518.1,204.4 L518.0,212.1 L515.9,219.9 L511.8,228.0Z"/><path d="M26.4,253.3 L18.8,261.8 L13.0,267.1 L7.6,270.8 L2.4,273.2 L-2.6,274.3 L-7.4,274.1 L-12.1,272.5 L-17.7,268.5 L-22.6,263.7 L-25.0,259.4 L-26.0,254.7 L-25.8,249.6 L-24.3,244.0 L-21.6,238.0 L-17.4,231.4 L-10.4,222.5 L-2.8,214.0 L3.0,208.7 L8.4,205.0 L13.6,202.6 L18.6,201.5 L23.4,201.7 L28.1,203.3 L33.7,207.3 L38.6,212.1 L41.0,216.4 L42.0,221.1 L41.8,226.2 L40.3,231.8 L37.6,237.8 L33.4,244.4Z"/><path d="M68.5,336.5 L60.0,345.7 L53.0,350.9 L46.0,354.2 L39.0,355.7 L31.7,355.4 L24.3,353.4 L16.5,349.5 L6.5,341.9 L-2.7,333.4 L-7.9,326.4 L-11.2,319.4 L-12.7,312.4 L-12.4,305.1 L-10.4,297.7 L-6.5,289.9 L1.1,279.9 L9.6,270.7 L16.6,265.5 L23.6,262.2 L30.6,260.7 L37.9,261.0 L45.3,263.0 L53.1,266.9 L63.1,274.5 L72.3,283.0 L77.5,290.0 L80.8,297.0 L82.3,304.0 L82.0,311.3 L80.0,318.7 L76.1,326.5Z"/><path d="M157.4,321.7 L149.2,330.4 L142.5,335.4 L135.8,338.4 L128.8,339.7 L121.7,339.3 L114.4,337.2 L106.7,333.1 L96.7,325.6 L87.5,317.1 L82.2,310.2 L78.8,303.3 L77.2,296.4 L77.3,289.3 L79.1,282.2 L82.8,274.7 L90.0,265.1 L98.2,256.4 L104.9,251.4 L111.6,248.4 L118.6,247.1 L125.7,247.5 L133.0,249.6 L140.7,253.7 L150.7,261.2 L159.9,269.7 L165.2,276.6 L168.6,283.5 L170.2,290.4 L170.1,297.5 L168.3,304.6 L164.6,312.1Z"/><path d="M230.5,291.9 L221.7,301.6 L214.7,307.3 L207.8,311.1 L201.0,313.2 L194.3,313.6 L187.5,312.3 L180.6,309.2 L171.8,302.7 L164.0,295.3 L159.7,289.0 L157.2,282.5 L156.5,275.8 L157.3,268.7 L159.9,261.3 L164.3,253.5 L172.3,243.1 L181.1,233.4 L188.1,227.7 L195.0,223.9 L201.8,221.8 L208.5,221.4 L215.3,222.7 L222.2,225.8 L231.0,232.3 L238.8,239.7 L243.1,246.0 L245.6,252.5 L246.3,259.2 L245.5,266.3 L242.9,273.7 L238.5,281.5Z"/><path d="M365.5,318.6 L356.7,328.0 L349.6,333.4 L342.5,336.7 L335.2,338.3 L327.8,338.0 L320.2,336.0 L312.3,331.9 L302.1,324.2 L292.7,315.4 L287.3,308.3 L284.0,301.2 L282.4,293.9 L282.7,286.5 L284.7,278.9 L288.8,271.0 L296.5,260.8 L305.3,251.4 L312.4,246.0 L319.5,242.7 L326.8,241.1 L334.2,241.4 L341.8,243.4 L349.7,247.5 L359.9,255.2 L369.3,264.0 L374.7,271.1 L378.0,278.2 L379.6,285.5 L379.3,292.9 L377.3,300.5 L373.2,308.4Z"/><path d="M465.4,314.9 L456.6,324.3 L449.5,329.7 L442.4,333.0 L435.1,334.6 L427.7,334.3 L420.1,332.3 L412.2,328.2 L402.0,320.5 L392.6,311.7 L387.2,304.6 L383.9,297.5 L382.3,290.2 L382.6,282.8 L384.6,275.2 L388.7,267.3 L396.4,257.1 L405.2,247.7 L412.3,242.3 L419.4,239.0 L426.7,237.4 L434.1,237.7 L441.7,239.7 L449.6,243.8 L459.8,251.5 L469.2,260.3 L474.6,267.4 L477.9,274.5 L479.5,281.8 L479.2,289.2 L477.2,296.8 L473.1,304.7Z"/><path d="M574.8,295.1 L566.3,304.3 L559.4,309.6 L552.5,312.9 L545.5,314.5 L538.3,314.3 L531.0,312.4 L523.4,308.6 L513.6,301.2 L504.7,292.8 L499.6,286.0 L496.4,279.2 L495.0,272.1 L495.3,265.0 L497.4,257.6 L501.4,249.9 L509.0,239.9 L517.5,230.7 L524.4,225.4 L531.3,222.1 L538.3,220.5 L545.5,220.7 L552.8,222.6 L560.4,226.4 L570.2,233.8 L579.1,242.2 L584.2,249.0 L587.4,255.8 L588.8,262.9 L588.5,270.0 L586.4,277.4 L582.4,285.1Z"/><path d="M618.0,342.3 L610.3,350.7 L604.3,355.8 L598.6,359.2 L592.9,361.2 L587.3,361.9 L581.8,361.0 L576.2,358.7 L569.3,353.6 L563.1,347.7 L559.8,342.6 L558.1,337.3 L557.7,331.7 L558.7,325.8 L561.1,319.5 L565.0,312.7 L572.0,303.7 L579.7,295.3 L585.7,290.2 L591.4,286.8 L597.1,284.8 L602.7,284.1 L608.2,285.0 L613.8,287.3 L620.7,292.4 L626.9,298.3 L630.2,303.4 L631.9,308.7 L632.3,314.3 L631.3,320.2 L628.9,326.5 L625.0,333.3Z"/><path d="M173.7,387.6 L167.4,394.1 L161.8,397.5 L156.0,399.3 L149.7,399.4 L143.1,398.1 L136.0,395.2 L128.3,390.6 L117.9,382.5 L108.2,373.7 L102.3,366.9 L98.2,360.5 L95.8,354.1 L94.8,347.9 L95.5,341.9 L97.9,335.8 L103.3,328.4 L109.6,321.9 L115.2,318.5 L121.0,316.7 L127.3,316.6 L133.9,317.9 L141.0,320.8 L148.7,325.4 L159.1,333.5 L168.8,342.3 L174.7,349.1 L178.8,355.5 L181.2,361.9 L182.2,368.1 L181.5,374.1 L179.1,380.2Z"/><path d="M278.4,384.6 L271.0,392.4 L264.7,396.7 L258.2,399.2 L251.5,399.9 L244.4,399.1 L237.0,396.5 L229.2,392.1 L218.8,384.1 L209.1,375.3 L203.4,368.3 L199.6,361.4 L197.5,354.6 L197.1,347.9 L198.4,341.1 L201.5,334.2 L208.0,325.4 L215.4,317.6 L221.7,313.3 L228.2,310.8 L234.9,310.1 L242.0,310.9 L249.4,313.5 L257.2,317.9 L267.6,325.9 L277.3,334.7 L283.0,341.7 L286.8,348.6 L288.9,355.4 L289.3,362.1 L288.0,368.9 L284.9,375.8Z"/><path d="M426.8,375.6 L419.4,383.5 L413.2,387.9 L406.9,390.5 L400.4,391.5 L393.7,390.8 L386.7,388.6 L379.2,384.5 L369.5,377.1 L360.5,368.8 L355.2,362.2 L351.7,355.7 L350.0,349.1 L349.8,342.5 L351.2,335.9 L354.5,329.1 L361.0,320.4 L368.4,312.5 L374.6,308.1 L380.9,305.5 L387.4,304.5 L394.1,305.2 L401.1,307.4 L408.6,311.5 L418.3,318.9 L427.3,327.2 L432.6,333.8 L436.1,340.3 L437.8,346.9 L438.0,353.5 L436.6,360.1 L433.3,366.9Z"/><path d="M546.8,373.9 L538.9,382.2 L532.5,386.9 L525.8,389.6 L519.0,390.6 L511.9,390.0 L504.6,387.6 L496.8,383.4 L486.6,375.6 L477.2,367.0 L471.6,360.0 L468.1,353.2 L466.2,346.3 L466.0,339.4 L467.6,332.4 L471.0,325.2 L477.8,316.1 L485.7,307.8 L492.1,303.1 L498.8,300.4 L505.6,299.4 L512.7,300.0 L520.0,302.4 L527.8,306.6 L538.0,314.4 L547.4,323.0 L553.0,330.0 L556.5,336.8 L558.4,343.7 L558.6,350.6 L557.0,357.6 L553.6,364.8Z"/><path d="M71.1,27.4 L66.3,32.3 L62.0,34.8 L57.4,35.9 L52.5,35.8 L47.1,34.5 L41.4,32.0 L35.1,28.1 L26.6,21.4 L18.5,14.2 L13.6,8.6 L10.1,3.4 L7.9,-1.6 L6.9,-6.5 L7.2,-11.2 L8.9,-15.8 L12.9,-21.4 L17.7,-26.3 L22.0,-28.8 L26.6,-29.9 L31.5,-29.8 L36.9,-28.5 L42.6,-26.0 L48.9,-22.1 L57.4,-15.4 L65.5,-8.2 L70.4,-2.6 L73.9,2.6 L76.1,7.6 L77.1,12.5 L76.8,17.2 L75.1,21.8Z"/><path d="M338.0,41.8 L333.3,46.8 L329.5,49.7 L325.7,51.5 L321.9,52.3 L317.9,52.2 L313.9,51.1 L309.6,48.9 L304.2,44.8 L299.2,40.1 L296.3,36.3 L294.5,32.5 L293.7,28.7 L293.8,24.7 L294.9,20.7 L297.1,16.4 L301.2,11.0 L305.9,6.0 L309.7,3.1 L313.5,1.3 L317.3,0.5 L321.3,0.6 L325.3,1.7 L329.6,3.9 L335.0,8.0 L340.0,12.7 L342.9,16.5 L344.7,20.3 L345.5,24.1 L345.4,28.1 L344.3,32.1 L342.1,36.4Z"/><path d="M354.6,240.4 L349.8,245.6 L345.9,248.7 L342.1,250.6 L338.2,251.6 L334.3,251.6 L330.3,250.7 L326.2,248.7 L320.9,244.8 L316.2,240.3 L313.5,236.6 L311.8,232.8 L311.2,228.9 L311.5,225.0 L312.7,220.8 L315.1,216.5 L319.4,210.8 L324.2,205.6 L328.1,202.5 L331.9,200.6 L335.8,199.6 L339.7,199.6 L343.7,200.5 L347.8,202.5 L353.1,206.4 L357.8,210.9 L360.5,214.6 L362.2,218.4 L362.8,222.3 L362.5,226.2 L361.3,230.4 L358.9,234.7Z"/></g>
<g fill="none" stroke="#6b6b6b" stroke-width="8.0"><path d="M47.4,83.9 L40.5,91.5 L35.0,95.9 L29.6,98.8 L24.2,100.4 L18.7,100.6 L13.3,99.5 L7.7,96.8 L0.6,91.6 L-5.9,85.5 L-9.4,80.4 L-11.5,75.2 L-12.2,69.9 L-11.6,64.3 L-9.7,58.4 L-6.3,52.2 L-0.0,44.1 L6.9,36.5 L12.4,32.1 L17.8,29.2 L23.2,27.6 L28.7,27.4 L34.1,28.5 L39.7,31.2 L46.8,36.4 L53.3,42.5 L56.8,47.6 L58.9,52.8 L59.6,58.1 L59.0,63.7 L57.1,69.6 L53.7,75.8Z"/><path d="M129.8,69.2 L122.5,77.1 L116.5,81.7 L110.6,84.6 L104.5,85.9 L98.3,85.8 L92.1,84.1 L85.5,80.8 L77.1,74.5 L69.4,67.3 L65.0,61.4 L62.3,55.5 L61.1,49.5 L61.4,43.3 L63.2,36.9 L66.6,30.2 L73.2,21.6 L80.5,13.7 L86.5,9.1 L92.4,6.2 L98.5,4.9 L104.7,5.0 L110.9,6.7 L117.5,10.0 L125.9,16.3 L133.6,23.5 L138.0,29.4 L140.7,35.3 L141.9,41.3 L141.6,47.5 L139.8,53.9 L136.4,60.6Z"/><path d="M237.1,65.5 L229.8,73.4 L223.8,78.0 L217.9,80.9 L211.8,82.2 L205.6,82.1 L199.4,80.4 L192.8,77.1 L184.4,70.8 L176.7,63.6 L172.3,57.7 L169.6,51.8 L168.4,45.8 L168.7,39.6 L170.5,33.2 L173.9,26.5 L180.5,17.9 L187.8,10.0 L193.8,5.4 L199.7,2.5 L205.8,1.2 L212.0,1.3 L218.2,3.0 L224.8,6.3 L233.2,12.6 L240.9,19.8 L245.3,25.7 L248.0,31.6 L249.2,37.6 L248.9,43.8 L247.1,50.2 L243.7,56.9Z"/><path d="M311.6,82.0 L305.1,89.1 L299.9,93.4 L294.9,96.2 L289.9,97.7 L284.9,98.1 L279.9,97.1 L274.8,94.8 L268.3,90.0 L262.6,84.5 L259.4,79.9 L257.6,75.1 L257.0,70.2 L257.7,65.0 L259.6,59.5 L262.9,53.7 L268.8,46.0 L275.3,38.9 L280.5,34.6 L285.5,31.8 L290.5,30.3 L295.5,29.9 L300.5,30.9 L305.6,33.2 L312.1,38.0 L317.8,43.5 L321.0,48.1 L322.8,52.9 L323.4,57.8 L322.7,63.0 L320.8,68.5 L317.5,74.3Z"/><path d="M403.7,80.3 L396.4,88.2 L390.4,92.8 L384.5,95.7 L378.4,97.0 L372.2,96.9 L366.0,95.2 L359.4,91.9 L351.0,85.6 L343.3,78.4 L338.9,72.5 L336.2,66.6 L335.0,60.6 L335.3,54.4 L337.1,48.0 L340.5,41.3 L347.1,32.7 L354.4,24.8 L360.4,20.2 L366.3,17.3 L372.4,16.0 L378.6,16.1 L384.8,17.8 L391.4,21.1 L399.8,27.4 L407.5,34.6 L411.9,40.5 L414.6,46.4 L415.8,52.4 L415.5,58.6 L413.7,65.0 L410.3,71.7Z"/><path d="M502.2,78.5 L495.6,85.5 L490.0,89.4 L484.3,91.7 L478.3,92.4 L472.1,91.8 L465.7,89.6 L458.8,85.8 L449.7,78.8 L441.4,71.1 L436.4,65.0 L433.1,59.0 L431.4,53.1 L431.1,47.1 L432.3,41.0 L435.2,34.9 L441.0,27.1 L447.6,20.1 L453.2,16.2 L458.9,13.9 L464.9,13.2 L471.1,13.8 L477.5,16.0 L484.4,19.8 L493.5,26.8 L501.8,34.5 L506.8,40.6 L510.1,46.6 L511.8,52.5 L512.1,58.5 L510.9,64.6 L508.0,70.7Z"/><path d="M596.7,52.3 L590.2,59.4 L585.0,63.7 L580.0,66.5 L575.0,68.0 L570.0,68.4 L565.0,67.4 L559.9,65.1 L553.4,60.3 L547.7,54.8 L544.5,50.2 L542.7,45.4 L542.1,40.5 L542.8,35.3 L544.7,29.8 L548.0,24.0 L553.9,16.3 L560.4,9.2 L565.6,4.9 L570.6,2.1 L575.6,0.6 L580.6,0.2 L585.6,1.2 L590.7,3.5 L597.2,8.3 L602.9,13.8 L606.1,18.4 L607.9,23.2 L608.5,28.1 L607.8,33.3 L605.9,38.8 L602.6,44.6Z"/><path d="M69.1,167.4 L61.0,176.2 L54.4,181.3 L47.9,184.5 L41.3,186.0 L34.6,186.0 L27.7,184.3 L20.6,180.7 L11.5,173.9 L3.2,166.1 L-1.5,159.7 L-4.4,153.3 L-5.7,146.7 L-5.3,139.9 L-3.2,132.9 L0.6,125.5 L7.9,116.0 L16.0,107.2 L22.6,102.1 L29.1,98.9 L35.7,97.4 L42.4,97.4 L49.3,99.1 L56.4,102.7 L65.5,109.5 L73.8,117.3 L78.5,123.7 L81.4,130.1 L82.7,136.7 L82.3,143.5 L80.2,150.5 L76.4,157.9Z"/><path d="M149.1,151.3 L141.4,159.7 L135.1,164.5 L128.9,167.6 L122.6,169.1 L116.2,169.0 L109.7,167.4 L103.0,164.0 L94.3,157.5 L86.4,150.1 L81.9,144.1 L79.2,137.9 L78.0,131.7 L78.4,125.2 L80.3,118.6 L84.0,111.6 L90.9,102.5 L98.6,94.1 L104.9,89.3 L111.1,86.2 L117.4,84.7 L123.8,84.8 L130.3,86.4 L137.0,89.8 L145.7,96.3 L153.6,103.7 L158.1,109.7 L160.8,115.9 L162.0,122.1 L161.6,128.6 L159.7,135.2 L156.0,142.2Z"/><path d="M251.2,150.0 L243.5,158.4 L237.3,163.3 L231.2,166.5 L225.0,168.1 L218.8,168.2 L212.6,166.8 L206.1,163.7 L197.9,157.5 L190.4,150.5 L186.2,144.7 L183.7,138.8 L182.8,132.6 L183.3,126.3 L185.4,119.8 L189.1,112.8 L196.0,103.8 L203.7,95.4 L209.9,90.5 L216.0,87.3 L222.2,85.7 L228.4,85.6 L234.6,87.0 L241.1,90.1 L249.3,96.3 L256.8,103.3 L261.0,109.1 L263.5,115.0 L264.4,121.2 L263.9,127.5 L261.8,134.0 L258.1,141.0Z"/><path d="M334.7,171.0 L327.4,178.9 L321.5,183.6 L315.8,186.6 L309.9,188.1 L304.1,188.3 L298.2,186.9 L292.0,184.0 L284.3,178.2 L277.2,171.6 L273.3,166.1 L270.9,160.5 L270.0,154.7 L270.6,148.7 L272.5,142.4 L276.1,135.8 L282.7,127.2 L290.0,119.3 L295.9,114.6 L301.6,111.6 L307.5,110.1 L313.3,109.9 L319.2,111.3 L325.4,114.2 L333.1,120.0 L340.2,126.6 L344.1,132.1 L346.5,137.7 L347.4,143.5 L346.8,149.5 L344.9,155.8 L341.3,162.4Z"/><path d="M414.2,201.4 L406.4,209.7 L400.1,214.4 L393.7,217.4 L387.2,218.7 L380.5,218.4 L373.6,216.4 L366.4,212.7 L357.1,205.6 L348.5,197.7 L343.6,191.2 L340.5,184.8 L339.0,178.3 L339.2,171.6 L341.0,164.8 L344.5,157.8 L351.4,148.6 L359.2,140.3 L365.5,135.6 L371.9,132.6 L378.4,131.3 L385.1,131.6 L392.0,133.6 L399.2,137.3 L408.5,144.4 L417.1,152.3 L422.0,158.8 L425.1,165.2 L426.6,171.7 L426.4,178.4 L424.6,185.2 L421.1,192.2Z"/><path d="M471.9,140.9 L464.5,148.8 L458.4,153.3 L452.4,156.1 L446.2,157.3 L439.8,157.0 L433.3,155.2 L426.4,151.6 L417.6,144.9 L409.4,137.3 L404.7,131.2 L401.8,125.1 L400.4,118.9 L400.5,112.6 L402.2,106.1 L405.6,99.4 L412.1,90.7 L419.5,82.8 L425.6,78.3 L431.6,75.5 L437.8,74.3 L444.2,74.6 L450.7,76.4 L457.6,80.0 L466.4,86.7 L474.6,94.3 L479.3,100.4 L482.2,106.5 L483.6,112.7 L483.5,119.0 L481.8,125.5 L478.4,132.2Z"/><path d="M558.4,164.8 L551.0,172.8 L545.1,177.4 L539.2,180.3 L533.2,181.7 L527.2,181.7 L521.0,180.1 L514.6,177.0 L506.4,170.8 L498.9,163.8 L494.6,158.0 L492.1,152.2 L491.0,146.3 L491.3,140.1 L493.2,133.8 L496.7,127.2 L503.2,118.6 L510.6,110.6 L516.5,106.0 L522.4,103.1 L528.4,101.7 L534.4,101.7 L540.6,103.3 L547.0,106.4 L555.2,112.6 L562.7,119.6 L567.0,125.4 L569.5,131.2 L570.6,137.1 L570.3,143.3 L568.4,149.6 L564.9,156.2Z"/><path d="M605.7,227.6 L599.1,234.7 L593.9,238.9 L588.7,241.6 L583.6,243.0 L578.4,243.2 L573.1,242.0 L567.7,239.4 L560.8,234.3 L554.6,228.5 L551.2,223.6 L549.1,218.6 L548.4,213.5 L548.9,208.1 L550.6,202.6 L553.8,196.7 L559.7,189.0 L566.3,181.9 L571.5,177.7 L576.7,175.0 L581.8,173.6 L587.0,173.4 L592.3,174.6 L597.7,177.2 L604.6,182.3 L610.8,188.1 L614.2,193.0 L616.3,198.0 L617.0,203.1 L616.5,208.5 L614.8,214.0 L611.6,219.9Z"/><path d="M83.0,248.7 L76.1,256.2 L70.5,260.5 L64.9,263.3 L59.2,264.7 L53.5,264.6 L47.7,263.2 L41.6,260.2 L33.9,254.4 L26.8,247.8 L22.8,242.3 L20.4,236.8 L19.3,231.2 L19.7,225.4 L21.4,219.4 L24.8,213.1 L31.0,204.9 L37.9,197.4 L43.5,193.1 L49.1,190.3 L54.8,188.9 L60.5,189.0 L66.3,190.4 L72.4,193.4 L80.1,199.2 L87.2,205.8 L91.2,211.3 L93.6,216.8 L94.7,222.4 L94.3,228.2 L92.6,234.2 L89.2,240.5Z"/><path d="M176.5,234.0 L169.1,241.9 L163.1,246.4 L156.9,249.1 L150.7,250.3 L144.2,249.9 L137.6,248.0 L130.6,244.3 L121.5,237.4 L113.1,229.7 L108.3,223.4 L105.2,217.2 L103.7,210.9 L103.8,204.5 L105.4,198.0 L108.8,191.3 L115.3,182.6 L122.7,174.7 L128.7,170.2 L134.9,167.5 L141.1,166.3 L147.6,166.7 L154.2,168.6 L161.2,172.3 L170.3,179.2 L178.7,186.9 L183.5,193.2 L186.6,199.4 L188.1,205.7 L188.0,212.1 L186.4,218.6 L183.0,225.3Z"/><path d="M289.7,243.8 L282.3,251.7 L276.3,256.3 L270.3,259.1 L264.2,260.4 L257.9,260.2 L251.5,258.5 L244.8,255.0 L236.2,248.5 L228.3,241.1 L223.7,235.1 L220.9,229.1 L219.6,223.0 L219.8,216.7 L221.5,210.3 L225.0,203.6 L231.5,195.0 L238.9,187.1 L244.9,182.5 L250.9,179.7 L257.0,178.4 L263.3,178.6 L269.7,180.3 L276.4,183.8 L285.0,190.3 L292.9,197.7 L297.5,203.7 L300.3,209.7 L301.6,215.8 L301.4,222.1 L299.7,228.5 L296.2,235.2Z"/><path d="M499.3,234.7 L491.5,243.0 L485.2,247.7 L478.8,250.7 L472.3,252.0 L465.6,251.7 L458.7,249.7 L451.5,246.0 L442.2,238.9 L433.6,231.0 L428.7,224.5 L425.6,218.1 L424.1,211.6 L424.3,204.9 L426.1,198.1 L429.6,191.1 L436.5,181.9 L444.3,173.6 L450.6,168.9 L457.0,165.9 L463.5,164.6 L470.2,164.9 L477.1,166.9 L484.3,170.6 L493.6,177.7 L502.2,185.6 L507.1,192.1 L510.2,198.5 L511.7,205.0 L511.5,211.7 L509.7,218.5 L506.2,225.5Z"/><path d="M21.8,249.5 L15.4,256.7 L10.5,261.2 L6.1,264.5 L1.8,266.7 L-2.2,267.9 L-6.0,267.9 L-9.6,266.9 L-13.9,263.9 L-17.5,260.3 L-19.1,256.9 L-19.7,253.1 L-19.3,249.0 L-17.9,244.4 L-15.4,239.5 L-11.8,233.9 L-5.8,226.3 L0.6,219.1 L5.5,214.6 L9.9,211.3 L14.2,209.1 L18.2,207.9 L22.0,207.9 L25.6,208.9 L29.9,211.9 L33.5,215.5 L35.1,218.9 L35.7,222.7 L35.3,226.8 L33.9,231.4 L31.4,236.3 L27.8,241.9Z"/><path d="M63.9,332.6 L56.5,340.5 L50.5,345.1 L44.5,347.9 L38.4,349.2 L32.1,349.0 L25.7,347.3 L19.0,343.8 L10.4,337.3 L2.5,329.9 L-2.1,323.9 L-4.9,317.9 L-6.2,311.8 L-6.0,305.5 L-4.3,299.1 L-0.8,292.4 L5.7,283.8 L13.1,275.9 L19.1,271.3 L25.1,268.5 L31.2,267.2 L37.5,267.4 L43.9,269.1 L50.6,272.6 L59.2,279.1 L67.1,286.5 L71.7,292.5 L74.5,298.5 L75.8,304.6 L75.6,310.9 L73.9,317.3 L70.4,324.0Z"/><path d="M152.8,317.8 L145.8,325.3 L140.0,329.6 L134.2,332.1 L128.3,333.2 L122.1,332.9 L115.8,331.0 L109.2,327.5 L100.6,321.0 L92.6,313.6 L88.0,307.7 L85.1,301.8 L83.7,295.8 L83.7,289.8 L85.3,283.6 L88.4,277.2 L94.6,269.0 L101.6,261.5 L107.4,257.2 L113.2,254.7 L119.1,253.6 L125.3,253.9 L131.6,255.8 L138.2,259.3 L146.8,265.8 L154.8,273.2 L159.4,279.1 L162.3,285.0 L163.7,291.0 L163.7,297.0 L162.1,303.2 L159.0,309.6Z"/><path d="M225.9,288.1 L218.2,296.5 L212.2,301.5 L206.3,304.8 L200.5,306.7 L194.7,307.2 L188.9,306.2 L183.0,303.5 L175.7,298.1 L169.1,291.8 L165.5,286.5 L163.5,281.0 L162.9,275.2 L163.8,269.1 L166.1,262.8 L169.9,256.0 L176.9,246.9 L184.6,238.5 L190.6,233.5 L196.5,230.2 L202.3,228.3 L208.1,227.8 L213.9,228.8 L219.8,231.5 L227.1,236.9 L233.7,243.2 L237.3,248.5 L239.3,254.0 L239.9,259.8 L239.0,265.9 L236.7,272.2 L232.9,279.0Z"/><path d="M360.9,314.8 L353.3,322.9 L347.1,327.6 L341.0,330.5 L334.7,331.8 L328.3,331.6 L321.7,329.8 L314.8,326.3 L305.9,319.6 L297.8,312.0 L293.1,305.8 L290.2,299.7 L288.9,293.4 L289.1,287.0 L290.9,280.4 L294.4,273.5 L301.1,264.6 L308.7,256.5 L314.9,251.8 L321.0,248.9 L327.3,247.6 L333.7,247.8 L340.3,249.6 L347.2,253.1 L356.1,259.8 L364.2,267.4 L368.9,273.6 L371.8,279.7 L373.1,286.0 L372.9,292.4 L371.1,299.0 L367.6,305.9Z"/><path d="M460.8,311.1 L453.2,319.2 L447.0,323.9 L440.9,326.8 L434.6,328.1 L428.2,327.9 L421.6,326.1 L414.7,322.6 L405.8,315.9 L397.7,308.3 L393.0,302.1 L390.1,296.0 L388.8,289.7 L389.0,283.3 L390.8,276.7 L394.3,269.8 L401.0,260.9 L408.6,252.8 L414.8,248.1 L420.9,245.2 L427.2,243.9 L433.6,244.1 L440.2,245.9 L447.1,249.4 L456.0,256.1 L464.1,263.7 L468.8,269.9 L471.7,276.0 L473.0,282.3 L472.8,288.7 L471.0,295.3 L467.5,302.2Z"/><path d="M570.2,291.3 L562.9,299.2 L556.9,303.8 L551.0,306.7 L544.9,308.0 L538.7,307.9 L532.5,306.2 L525.9,302.9 L517.5,296.6 L509.8,289.4 L505.4,283.5 L502.7,277.6 L501.5,271.6 L501.8,265.4 L503.6,259.0 L507.0,252.3 L513.6,243.7 L520.9,235.8 L526.9,231.2 L532.8,228.3 L538.9,227.0 L545.1,227.1 L551.3,228.8 L557.9,232.1 L566.3,238.4 L574.0,245.6 L578.4,251.5 L581.1,257.4 L582.3,263.4 L582.0,269.6 L580.2,276.0 L576.8,282.7Z"/><path d="M613.4,338.4 L606.9,345.6 L601.9,350.0 L597.0,353.0 L592.3,354.8 L587.7,355.4 L583.2,354.9 L578.7,353.0 L573.1,349.0 L568.2,344.3 L565.7,340.1 L564.3,335.8 L564.2,331.1 L565.1,326.2 L567.3,320.9 L570.7,315.2 L576.6,307.6 L583.1,300.4 L588.1,296.0 L593.0,293.0 L597.7,291.2 L602.3,290.6 L606.8,291.1 L611.3,293.0 L616.9,297.0 L621.8,301.7 L624.3,305.9 L625.7,310.2 L625.8,314.9 L624.9,319.8 L622.7,325.1 L619.3,330.8Z"/><path d="M169.1,383.7 L163.9,389.0 L159.3,391.7 L154.5,393.0 L149.2,393.0 L143.5,391.6 L137.4,389.0 L130.8,384.9 L121.8,377.9 L113.3,370.3 L108.1,364.5 L104.5,358.9 L102.2,353.6 L101.3,348.4 L101.7,343.3 L103.6,338.3 L107.9,332.3 L113.1,327.0 L117.7,324.3 L122.5,323.0 L127.8,323.0 L133.5,324.4 L139.6,327.0 L146.2,331.1 L155.2,338.1 L163.7,345.7 L168.9,351.5 L172.5,357.1 L174.8,362.4 L175.7,367.6 L175.3,372.7 L173.4,377.7Z"/><path d="M273.8,380.7 L267.5,387.3 L262.2,390.9 L256.7,392.9 L250.9,393.5 L244.8,392.6 L238.5,390.3 L231.7,386.5 L222.6,379.5 L214.2,371.8 L209.2,365.8 L205.9,359.9 L204.0,354.1 L203.5,348.3 L204.5,342.5 L207.2,336.6 L212.6,329.3 L218.9,322.7 L224.2,319.1 L229.7,317.1 L235.5,316.5 L241.6,317.4 L247.9,319.7 L254.7,323.5 L263.8,330.5 L272.2,338.2 L277.2,344.2 L280.5,350.1 L282.4,355.9 L282.9,361.7 L281.9,367.5 L279.2,373.4Z"/><path d="M422.2,371.8 L416.0,378.4 L410.7,382.1 L405.4,384.2 L399.9,385.0 L394.1,384.4 L388.1,382.4 L381.7,378.9 L373.3,372.5 L365.6,365.4 L361.0,359.7 L358.0,354.1 L356.4,348.6 L356.2,343.0 L357.4,337.3 L360.1,331.5 L365.6,324.2 L371.8,317.6 L377.1,313.9 L382.4,311.8 L387.9,311.0 L393.7,311.6 L399.7,313.6 L406.1,317.1 L414.5,323.5 L422.2,330.6 L426.8,336.3 L429.8,341.9 L431.4,347.4 L431.6,353.0 L430.4,358.7 L427.7,364.5Z"/><path d="M542.2,370.1 L535.5,377.1 L530.0,381.0 L524.3,383.3 L518.4,384.2 L512.3,383.5 L506.0,381.5 L499.3,377.8 L490.4,371.0 L482.3,363.5 L477.5,357.5 L474.3,351.6 L472.7,345.7 L472.5,339.8 L473.8,333.9 L476.6,327.7 L482.4,319.9 L489.1,312.9 L494.6,309.0 L500.3,306.7 L506.2,305.8 L512.3,306.5 L518.6,308.5 L525.3,312.2 L534.2,319.0 L542.3,326.5 L547.1,332.5 L550.3,338.4 L551.9,344.3 L552.1,350.2 L550.8,356.1 L548.0,362.3Z"/><path d="M66.5,23.6 L62.9,27.2 L59.5,28.9 L55.9,29.6 L51.9,29.3 L47.6,28.1 L42.8,25.8 L37.6,22.4 L30.4,16.8 L23.6,10.7 L19.4,6.1 L16.4,1.9 L14.4,-2.2 L13.4,-6.1 L13.4,-9.8 L14.6,-13.3 L17.5,-17.6 L21.1,-21.2 L24.5,-22.9 L28.1,-23.6 L32.1,-23.3 L36.4,-22.1 L41.2,-19.8 L46.4,-16.4 L53.6,-10.8 L60.4,-4.7 L64.6,-0.1 L67.6,4.1 L69.6,8.2 L70.6,12.1 L70.6,15.8 L69.4,19.3Z"/><path d="M333.4,38.0 L329.9,41.7 L327.0,43.9 L324.2,45.2 L321.3,45.8 L318.3,45.7 L315.3,44.9 L312.1,43.3 L308.0,40.2 L304.3,36.7 L302.1,33.8 L300.8,31.0 L300.2,28.1 L300.3,25.1 L301.1,22.1 L302.7,18.9 L305.8,14.8 L309.3,11.1 L312.2,8.9 L315.0,7.6 L317.9,7.0 L320.9,7.1 L323.9,7.9 L327.1,9.5 L331.2,12.6 L334.9,16.1 L337.1,19.0 L338.4,21.8 L339.0,24.7 L338.9,27.7 L338.1,30.7 L336.5,33.9Z"/><path d="M350.0,236.5 L346.4,240.5 L343.4,242.8 L340.5,244.3 L337.6,245.1 L334.7,245.2 L331.7,244.5 L328.7,243.0 L324.8,240.2 L321.3,236.8 L319.3,234.1 L318.1,231.3 L317.7,228.4 L317.9,225.4 L318.9,222.3 L320.7,219.0 L324.0,214.7 L327.6,210.7 L330.6,208.4 L333.5,206.9 L336.4,206.1 L339.3,206.0 L342.3,206.7 L345.3,208.2 L349.2,211.0 L352.7,214.4 L354.7,217.1 L355.9,219.9 L356.3,222.8 L356.1,225.8 L355.1,228.9 L353.3,232.2Z"/></g>
<g fill="#ececec"><path d="M42.1,79.4 L36.5,85.5 L32.1,89.1 L27.8,91.5 L23.5,92.8 L19.2,93.1 L14.9,92.3 L10.6,90.3 L5.1,86.2 L0.1,81.5 L-2.6,77.5 L-4.2,73.5 L-4.7,69.2 L-4.1,64.7 L-2.5,60.1 L0.3,55.1 L5.3,48.6 L10.9,42.5 L15.3,38.9 L19.6,36.5 L23.9,35.2 L28.2,34.9 L32.5,35.7 L36.8,37.7 L42.3,41.8 L47.3,46.5 L50.0,50.5 L51.6,54.5 L52.1,58.8 L51.5,63.3 L49.9,67.9 L47.1,72.9Z"/><path d="M124.5,64.7 L118.5,71.2 L113.6,74.9 L108.8,77.2 L103.8,78.4 L98.8,78.3 L93.7,77.0 L88.4,74.3 L81.6,69.1 L75.3,63.3 L71.8,58.5 L69.6,53.7 L68.6,48.8 L68.9,43.8 L70.4,38.6 L73.2,33.2 L78.5,26.1 L84.5,19.6 L89.4,15.9 L94.2,13.6 L99.2,12.4 L104.2,12.5 L109.3,13.8 L114.6,16.5 L121.4,21.7 L127.7,27.5 L131.2,32.3 L133.4,37.1 L134.4,42.0 L134.1,47.0 L132.6,52.2 L129.8,57.6Z"/><path d="M231.8,61.0 L225.8,67.5 L220.9,71.2 L216.1,73.5 L211.1,74.7 L206.1,74.6 L201.0,73.3 L195.7,70.6 L188.9,65.4 L182.6,59.6 L179.1,54.8 L176.9,50.0 L175.9,45.1 L176.2,40.1 L177.7,34.9 L180.5,29.5 L185.8,22.4 L191.8,15.9 L196.7,12.2 L201.5,9.9 L206.5,8.7 L211.5,8.8 L216.6,10.1 L221.9,12.8 L228.7,18.0 L235.0,23.8 L238.5,28.6 L240.7,33.4 L241.7,38.3 L241.4,43.3 L239.9,48.5 L237.1,53.9Z"/><path d="M306.3,77.5 L301.1,83.2 L297.0,86.6 L293.1,88.9 L289.2,90.2 L285.4,90.5 L281.6,89.9 L277.7,88.2 L272.8,84.7 L268.5,80.5 L266.2,77.0 L264.9,73.4 L264.6,69.5 L265.2,65.4 L266.8,61.2 L269.4,56.6 L274.1,50.5 L279.3,44.8 L283.4,41.4 L287.3,39.1 L291.2,37.8 L295.0,37.5 L298.8,38.1 L302.7,39.8 L307.6,43.3 L311.9,47.5 L314.2,51.0 L315.5,54.6 L315.8,58.5 L315.2,62.6 L313.6,66.8 L311.0,71.4Z"/><path d="M398.4,75.8 L392.4,82.3 L387.5,86.0 L382.7,88.3 L377.7,89.5 L372.7,89.4 L367.6,88.1 L362.3,85.4 L355.5,80.2 L349.2,74.4 L345.7,69.6 L343.5,64.8 L342.5,59.9 L342.8,54.9 L344.3,49.7 L347.1,44.3 L352.4,37.2 L358.4,30.7 L363.3,27.0 L368.1,24.7 L373.1,23.5 L378.1,23.6 L383.2,24.9 L388.5,27.6 L395.3,32.8 L401.6,38.6 L405.1,43.4 L407.3,48.2 L408.3,53.1 L408.0,58.1 L406.5,63.3 L403.7,68.7Z"/><path d="M496.9,74.0 L491.6,79.6 L487.1,82.6 L482.5,84.4 L477.7,84.9 L472.6,84.2 L467.3,82.4 L461.7,79.2 L454.2,73.5 L447.3,67.1 L443.2,62.1 L440.5,57.2 L438.9,52.4 L438.6,47.6 L439.5,42.7 L441.8,37.8 L446.3,31.6 L451.6,26.0 L456.1,23.0 L460.7,21.2 L465.5,20.7 L470.6,21.4 L475.9,23.2 L481.5,26.4 L489.0,32.1 L495.9,38.5 L500.0,43.5 L502.7,48.4 L504.3,53.2 L504.6,58.0 L503.7,62.9 L501.4,67.8Z"/><path d="M591.4,47.8 L586.2,53.5 L582.1,56.9 L578.2,59.2 L574.3,60.5 L570.5,60.8 L566.7,60.2 L562.8,58.5 L557.9,55.0 L553.6,50.8 L551.3,47.3 L550.0,43.7 L549.7,39.8 L550.3,35.7 L551.9,31.5 L554.5,26.9 L559.2,20.8 L564.4,15.1 L568.5,11.7 L572.4,9.4 L576.3,8.1 L580.1,7.8 L583.9,8.4 L587.8,10.1 L592.7,13.6 L597.0,17.8 L599.3,21.3 L600.6,24.9 L600.9,28.8 L600.3,32.9 L598.7,37.1 L596.1,41.7Z"/><path d="M63.8,162.9 L57.0,170.2 L51.5,174.5 L46.1,177.2 L40.6,178.5 L35.1,178.5 L29.4,177.1 L23.5,174.1 L16.0,168.5 L9.1,162.1 L5.3,156.8 L2.9,151.5 L1.9,146.0 L2.3,140.4 L4.0,134.5 L7.2,128.4 L13.2,120.5 L20.0,113.2 L25.5,108.9 L30.9,106.2 L36.4,104.9 L41.9,104.9 L47.6,106.3 L53.5,109.3 L61.0,114.9 L67.9,121.3 L71.7,126.6 L74.1,131.9 L75.1,137.4 L74.7,143.0 L73.0,148.9 L69.8,155.0Z"/><path d="M143.7,146.8 L137.4,153.7 L132.2,157.7 L127.1,160.3 L121.9,161.5 L116.7,161.5 L111.4,160.2 L105.9,157.5 L98.8,152.2 L92.3,146.1 L88.7,141.2 L86.5,136.2 L85.6,131.0 L85.9,125.7 L87.5,120.2 L90.6,114.5 L96.3,107.0 L102.6,100.1 L107.8,96.1 L112.9,93.5 L118.1,92.3 L123.3,92.3 L128.6,93.6 L134.1,96.3 L141.2,101.6 L147.7,107.7 L151.3,112.6 L153.5,117.6 L154.4,122.8 L154.1,128.1 L152.5,133.6 L149.4,139.3Z"/><path d="M245.8,145.5 L239.5,152.5 L234.4,156.5 L229.4,159.2 L224.4,160.5 L219.3,160.7 L214.3,159.6 L209.0,157.1 L202.4,152.2 L196.4,146.5 L193.0,141.8 L191.1,137.0 L190.3,132.0 L190.8,126.8 L192.6,121.4 L195.7,115.7 L201.4,108.3 L207.7,101.3 L212.8,97.3 L217.8,94.6 L222.8,93.3 L227.9,93.1 L232.9,94.2 L238.2,96.7 L244.8,101.6 L250.8,107.3 L254.2,112.0 L256.1,116.8 L256.9,121.8 L256.4,127.0 L254.6,132.4 L251.5,138.1Z"/><path d="M329.4,166.5 L323.4,173.0 L318.6,176.8 L314.0,179.3 L309.3,180.6 L304.6,180.7 L299.8,179.7 L295.0,177.4 L288.8,172.8 L283.2,167.6 L280.1,163.2 L278.3,158.7 L277.6,154.0 L278.1,149.2 L279.7,144.1 L282.7,138.8 L288.0,131.7 L294.0,125.2 L298.8,121.4 L303.4,118.9 L308.1,117.6 L312.8,117.5 L317.6,118.5 L322.4,120.8 L328.6,125.4 L334.2,130.6 L337.3,135.0 L339.1,139.5 L339.8,144.2 L339.3,149.0 L337.7,154.1 L334.7,159.4Z"/><path d="M408.8,196.9 L402.4,203.7 L397.2,207.6 L391.9,210.0 L386.5,211.1 L381.0,210.8 L375.3,209.2 L369.3,206.1 L361.6,200.3 L354.5,193.7 L350.4,188.3 L347.8,183.0 L346.6,177.6 L346.7,172.1 L348.2,166.5 L351.1,160.7 L356.8,153.1 L363.2,146.3 L368.4,142.4 L373.7,140.0 L379.1,138.9 L384.6,139.2 L390.3,140.8 L396.3,143.9 L404.0,149.7 L411.1,156.3 L415.2,161.7 L417.8,167.0 L419.0,172.4 L418.9,177.9 L417.4,183.5 L414.5,189.3Z"/><path d="M466.5,136.4 L460.5,142.8 L455.5,146.5 L450.6,148.8 L445.5,149.7 L440.3,149.5 L435.0,148.0 L429.3,145.0 L422.1,139.5 L415.4,133.3 L411.5,128.3 L409.1,123.3 L408.0,118.2 L408.1,113.1 L409.4,107.8 L412.2,102.3 L417.5,95.2 L423.5,88.8 L428.5,85.1 L433.4,82.8 L438.5,81.9 L443.7,82.1 L449.0,83.6 L454.7,86.6 L461.9,92.1 L468.6,98.3 L472.5,103.3 L474.9,108.3 L476.0,113.4 L475.9,118.5 L474.6,123.8 L471.8,129.3Z"/><path d="M553.0,160.3 L547.0,166.8 L542.2,170.6 L537.4,173.0 L532.6,174.2 L527.6,174.2 L522.7,172.9 L517.5,170.4 L510.9,165.4 L504.8,159.8 L501.4,155.1 L499.4,150.4 L498.5,145.6 L498.8,140.6 L500.4,135.5 L503.2,130.1 L508.6,123.1 L514.6,116.6 L519.4,112.8 L524.2,110.4 L529.0,109.2 L534.0,109.2 L538.9,110.5 L544.1,113.0 L550.7,118.0 L556.8,123.6 L560.2,128.3 L562.2,133.0 L563.1,137.8 L562.8,142.8 L561.2,147.9 L558.4,153.3Z"/><path d="M600.3,223.1 L595.1,228.7 L591.0,232.1 L586.9,234.3 L582.9,235.5 L578.9,235.7 L574.8,234.8 L570.6,232.9 L565.3,229.0 L560.6,224.5 L558.0,220.7 L556.4,216.8 L555.9,212.8 L556.4,208.6 L557.8,204.3 L560.4,199.6 L565.1,193.5 L570.3,187.9 L574.4,184.5 L578.5,182.3 L582.5,181.1 L586.5,180.9 L590.6,181.8 L594.8,183.7 L600.1,187.6 L604.8,192.1 L607.4,195.9 L609.0,199.8 L609.5,203.8 L609.0,208.0 L607.6,212.3 L605.0,217.0Z"/><path d="M77.7,244.2 L72.1,250.2 L67.6,253.7 L63.1,256.0 L58.6,257.1 L54.0,257.1 L49.3,256.0 L44.5,253.6 L38.4,249.0 L32.8,243.7 L29.6,239.4 L27.7,235.0 L26.9,230.5 L27.2,225.9 L28.6,221.1 L31.3,216.0 L36.3,209.4 L41.9,203.4 L46.4,199.9 L50.9,197.6 L55.4,196.5 L60.0,196.5 L64.7,197.6 L69.5,200.0 L75.6,204.6 L81.2,209.9 L84.4,214.2 L86.3,218.6 L87.1,223.1 L86.8,227.7 L85.4,232.5 L82.7,237.6Z"/><path d="M171.2,229.5 L165.1,236.0 L160.2,239.6 L155.2,241.8 L150.0,242.7 L144.7,242.4 L139.2,240.8 L133.5,237.7 L126.0,232.0 L119.1,225.7 L115.1,220.5 L112.5,215.4 L111.3,210.2 L111.3,205.0 L112.6,199.7 L115.3,194.2 L120.6,187.1 L126.7,180.6 L131.6,177.0 L136.6,174.8 L141.8,173.9 L147.1,174.2 L152.6,175.8 L158.3,178.9 L165.8,184.6 L172.7,190.9 L176.7,196.1 L179.3,201.2 L180.5,206.4 L180.5,211.6 L179.2,216.9 L176.5,222.4Z"/><path d="M284.3,239.3 L278.3,245.8 L273.4,249.5 L268.5,251.8 L263.5,252.9 L258.4,252.7 L253.2,251.3 L247.7,248.5 L240.7,243.1 L234.2,237.1 L230.5,232.2 L228.2,227.3 L227.1,222.3 L227.3,217.2 L228.7,212.0 L231.5,206.5 L236.9,199.5 L242.9,193.0 L247.8,189.3 L252.7,187.0 L257.7,185.9 L262.8,186.1 L268.0,187.5 L273.5,190.3 L280.5,195.7 L287.0,201.7 L290.7,206.6 L293.0,211.5 L294.1,216.5 L293.9,221.6 L292.5,226.8 L289.7,232.3Z"/><path d="M493.9,230.2 L487.5,237.0 L482.3,240.9 L477.0,243.3 L471.6,244.4 L466.1,244.1 L460.4,242.5 L454.4,239.4 L446.7,233.6 L439.6,227.0 L435.5,221.6 L432.9,216.3 L431.7,210.9 L431.8,205.4 L433.3,199.8 L436.2,194.0 L441.9,186.4 L448.3,179.6 L453.5,175.7 L458.8,173.3 L464.2,172.2 L469.7,172.5 L475.4,174.1 L481.4,177.2 L489.1,183.0 L496.2,189.6 L500.3,195.0 L502.9,200.3 L504.1,205.7 L504.0,211.2 L502.5,216.8 L499.6,222.6Z"/><path d="M16.4,245.0 L11.4,250.7 L7.6,254.4 L4.3,257.2 L1.2,259.2 L-1.7,260.3 L-4.3,260.7 L-6.7,260.3 L-9.4,258.6 L-11.5,256.3 L-12.4,254.0 L-12.4,251.3 L-11.7,248.3 L-10.4,244.9 L-8.2,241.1 L-5.2,236.8 L-0.4,230.8 L4.6,225.1 L8.4,221.4 L11.7,218.6 L14.8,216.6 L17.7,215.5 L20.3,215.1 L22.7,215.5 L25.4,217.2 L27.5,219.5 L28.4,221.8 L28.4,224.5 L27.7,227.5 L26.4,230.9 L24.2,234.7 L21.2,239.0Z"/><path d="M58.5,328.1 L52.5,334.6 L47.6,338.3 L42.7,340.6 L37.7,341.7 L32.6,341.5 L27.4,340.1 L21.9,337.3 L14.9,331.9 L8.4,325.9 L4.7,321.0 L2.4,316.1 L1.3,311.1 L1.5,306.0 L2.9,300.8 L5.7,295.3 L11.1,288.3 L17.1,281.8 L22.0,278.1 L26.9,275.8 L31.9,274.7 L37.0,274.9 L42.2,276.3 L47.7,279.1 L54.7,284.5 L61.2,290.5 L64.9,295.4 L67.2,300.3 L68.3,305.3 L68.1,310.4 L66.7,315.6 L63.9,321.1Z"/><path d="M147.4,313.3 L141.8,319.4 L137.1,322.8 L132.4,324.8 L127.6,325.7 L122.6,325.4 L117.5,323.8 L112.1,321.0 L105.1,315.6 L98.6,309.6 L94.8,304.8 L92.4,300.0 L91.2,295.2 L91.2,290.2 L92.5,285.3 L95.0,280.1 L100.0,273.5 L105.6,267.4 L110.3,264.0 L115.0,262.0 L119.8,261.1 L124.8,261.4 L129.9,263.0 L135.3,265.8 L142.3,271.2 L148.8,277.2 L152.6,282.0 L155.0,286.8 L156.2,291.6 L156.2,296.6 L154.9,301.5 L152.4,306.7Z"/><path d="M220.6,283.6 L214.2,290.5 L209.3,294.7 L204.5,297.5 L199.8,299.2 L195.2,299.7 L190.6,299.0 L186.0,297.0 L180.2,292.8 L175.1,287.8 L172.3,283.6 L170.8,279.2 L170.5,274.6 L171.3,269.6 L173.2,264.5 L176.5,258.9 L182.2,251.4 L188.6,244.5 L193.5,240.3 L198.3,237.5 L203.0,235.8 L207.6,235.3 L212.2,236.0 L216.8,238.0 L222.6,242.2 L227.7,247.2 L230.5,251.4 L232.0,255.8 L232.3,260.4 L231.5,265.4 L229.6,270.5 L226.3,276.1Z"/><path d="M355.5,310.3 L349.3,316.9 L344.2,320.8 L339.2,323.1 L334.0,324.2 L328.8,324.1 L323.4,322.6 L317.7,319.7 L310.4,314.2 L303.8,308.0 L299.9,302.9 L297.6,297.9 L296.5,292.7 L296.6,287.5 L298.1,282.1 L301.0,276.4 L306.5,269.1 L312.7,262.5 L317.8,258.6 L322.8,256.3 L328.0,255.2 L333.2,255.3 L338.6,256.8 L344.3,259.7 L351.6,265.2 L358.2,271.4 L362.1,276.5 L364.4,281.5 L365.5,286.7 L365.4,291.9 L363.9,297.3 L361.0,303.0Z"/><path d="M455.4,306.6 L449.2,313.2 L444.1,317.1 L439.1,319.4 L433.9,320.5 L428.7,320.4 L423.3,318.9 L417.6,316.0 L410.3,310.5 L403.7,304.3 L399.8,299.2 L397.5,294.2 L396.4,289.0 L396.5,283.8 L398.0,278.4 L400.9,272.7 L406.4,265.4 L412.6,258.8 L417.7,254.9 L422.7,252.6 L427.9,251.5 L433.1,251.6 L438.5,253.1 L444.2,256.0 L451.5,261.5 L458.1,267.7 L462.0,272.8 L464.3,277.8 L465.4,283.0 L465.3,288.2 L463.8,293.6 L460.9,299.3Z"/><path d="M564.9,286.8 L558.9,293.3 L554.0,297.0 L549.2,299.3 L544.2,300.5 L539.2,300.4 L534.1,299.1 L528.8,296.4 L522.0,291.2 L515.7,285.4 L512.2,280.6 L510.0,275.8 L509.0,270.9 L509.3,265.9 L510.8,260.7 L513.6,255.3 L518.9,248.2 L524.9,241.7 L529.8,238.0 L534.6,235.7 L539.6,234.5 L544.6,234.6 L549.7,235.9 L555.0,238.6 L561.8,243.8 L568.1,249.6 L571.6,254.4 L573.8,259.2 L574.8,264.1 L574.5,269.1 L573.0,274.3 L570.2,279.7Z"/><path d="M608.0,333.9 L602.9,339.6 L599.0,343.2 L595.3,345.6 L591.7,347.2 L588.2,347.9 L584.9,347.7 L581.6,346.5 L577.6,343.7 L574.2,340.3 L572.4,337.2 L571.7,334.0 L571.7,330.5 L572.7,326.7 L574.5,322.6 L577.2,318.1 L582.0,312.1 L587.1,306.4 L591.0,302.8 L594.7,300.4 L598.3,298.8 L601.8,298.1 L605.1,298.3 L608.4,299.5 L612.4,302.3 L615.8,305.7 L617.6,308.8 L618.3,312.0 L618.3,315.5 L617.3,319.3 L615.5,323.4 L612.8,327.9Z"/><path d="M163.8,379.2 L159.9,383.0 L156.5,384.9 L152.7,385.7 L148.5,385.4 L144.0,384.1 L139.1,381.8 L133.7,378.4 L126.3,372.6 L119.3,366.3 L114.9,361.6 L111.8,357.1 L109.8,352.9 L108.8,348.9 L108.9,345.0 L110.1,341.2 L113.2,336.8 L117.1,333.0 L120.5,331.1 L124.3,330.3 L128.5,330.6 L133.0,331.9 L137.9,334.2 L143.3,337.6 L150.7,343.4 L157.7,349.7 L162.1,354.4 L165.2,358.9 L167.2,363.1 L168.2,367.1 L168.1,371.0 L166.9,374.8Z"/><path d="M268.5,376.2 L263.5,381.3 L259.3,384.1 L254.9,385.6 L250.3,385.9 L245.3,385.1 L240.2,383.2 L234.6,379.9 L227.1,374.2 L220.2,367.8 L216.0,362.9 L213.2,358.1 L211.5,353.4 L211.0,348.8 L211.7,344.2 L213.7,339.6 L217.9,333.8 L222.9,328.7 L227.1,325.9 L231.5,324.4 L236.1,324.1 L241.1,324.9 L246.2,326.8 L251.8,330.1 L259.3,335.8 L266.2,342.2 L270.4,347.1 L273.2,351.9 L274.9,356.6 L275.4,361.2 L274.7,365.8 L272.7,370.4Z"/><path d="M416.9,367.3 L412.0,372.4 L407.8,375.3 L403.6,376.9 L399.2,377.4 L394.6,376.9 L389.8,375.2 L384.6,372.4 L377.8,367.2 L371.5,361.4 L367.8,356.8 L365.3,352.3 L364.0,347.9 L363.7,343.5 L364.6,339.0 L366.7,334.4 L370.9,328.7 L375.8,323.6 L380.0,320.7 L384.2,319.1 L388.6,318.6 L393.2,319.1 L398.0,320.8 L403.2,323.6 L410.0,328.8 L416.3,334.6 L420.0,339.2 L422.5,343.7 L423.8,348.1 L424.1,352.5 L423.2,357.0 L421.1,361.6Z"/><path d="M536.8,365.6 L531.5,371.1 L527.1,374.2 L522.5,376.0 L517.8,376.6 L512.8,376.0 L507.7,374.3 L502.2,371.2 L494.9,365.7 L488.2,359.5 L484.3,354.6 L481.6,349.9 L480.2,345.1 L480.0,340.3 L480.9,335.5 L483.2,330.6 L487.8,324.4 L493.1,318.9 L497.5,315.8 L502.1,314.0 L506.8,313.4 L511.8,314.0 L516.9,315.7 L522.4,318.8 L529.7,324.3 L536.4,330.5 L540.3,335.4 L543.0,340.1 L544.4,344.9 L544.6,349.7 L543.7,354.5 L541.4,359.4Z"/><path d="M61.2,19.1 L58.9,21.2 L56.6,22.1 L54.1,22.3 L51.3,21.8 L48.1,20.5 L44.5,18.6 L40.5,15.9 L34.9,11.4 L29.6,6.7 L26.2,3.3 L23.7,0.1 L21.9,-2.9 L20.9,-5.6 L20.6,-8.1 L21.1,-10.4 L22.8,-13.1 L25.1,-15.2 L27.4,-16.1 L29.9,-16.3 L32.7,-15.8 L35.9,-14.5 L39.5,-12.6 L43.5,-9.9 L49.1,-5.4 L54.4,-0.7 L57.8,2.7 L60.3,5.9 L62.1,8.9 L63.1,11.6 L63.4,14.1 L62.9,16.4Z"/><path d="M328.0,33.5 L325.9,35.8 L324.2,37.1 L322.4,37.9 L320.6,38.3 L318.8,38.2 L317.0,37.7 L315.0,36.7 L312.5,34.8 L310.2,32.7 L308.9,31.0 L308.1,29.2 L307.7,27.4 L307.8,25.6 L308.3,23.8 L309.3,21.8 L311.2,19.3 L313.3,17.0 L315.0,15.7 L316.8,14.9 L318.6,14.5 L320.4,14.6 L322.2,15.1 L324.2,16.1 L326.7,18.0 L329.0,20.1 L330.3,21.8 L331.1,23.6 L331.5,25.4 L331.4,27.2 L330.9,29.0 L329.9,31.0Z"/><path d="M344.7,232.0 L342.4,234.5 L340.5,236.0 L338.7,237.0 L337.0,237.6 L335.2,237.7 L333.4,237.3 L331.6,236.5 L329.3,234.8 L327.2,232.8 L326.1,231.2 L325.4,229.5 L325.2,227.7 L325.4,225.9 L326.1,223.9 L327.3,221.9 L329.3,219.2 L331.6,216.7 L333.5,215.2 L335.3,214.2 L337.0,213.6 L338.8,213.5 L340.6,213.9 L342.4,214.7 L344.7,216.4 L346.8,218.4 L347.9,220.0 L348.6,221.7 L348.8,223.5 L348.6,225.3 L347.9,227.3 L346.7,229.3Z"/></g>
<g fill="none" stroke="#a6a6a6" stroke-width="2.5"><path d="M42.1,79.4 L36.5,85.5 L32.1,89.1 L27.8,91.5 L23.5,92.8 L19.2,93.1 L14.9,92.3 L10.6,90.3 L5.1,86.2 L0.1,81.5 L-2.6,77.5 L-4.2,73.5 L-4.7,69.2 L-4.1,64.7 L-2.5,60.1 L0.3,55.1 L5.3,48.6 L10.9,42.5 L15.3,38.9 L19.6,36.5 L23.9,35.2 L28.2,34.9 L32.5,35.7 L36.8,37.7 L42.3,41.8 L47.3,46.5 L50.0,50.5 L51.6,54.5 L52.1,58.8 L51.5,63.3 L49.9,67.9 L47.1,72.9Z"/><path d="M124.5,64.7 L118.5,71.2 L113.6,74.9 L108.8,77.2 L103.8,78.4 L98.8,78.3 L93.7,77.0 L88.4,74.3 L81.6,69.1 L75.3,63.3 L71.8,58.5 L69.6,53.7 L68.6,48.8 L68.9,43.8 L70.4,38.6 L73.2,33.2 L78.5,26.1 L84.5,19.6 L89.4,15.9 L94.2,13.6 L99.2,12.4 L104.2,12.5 L109.3,13.8 L114.6,16.5 L121.4,21.7 L127.7,27.5 L131.2,32.3 L133.4,37.1 L134.4,42.0 L134.1,47.0 L132.6,52.2 L129.8,57.6Z"/><path d="M231.8,61.0 L225.8,67.5 L220.9,71.2 L216.1,73.5 L211.1,74.7 L206.1,74.6 L201.0,73.3 L195.7,70.6 L188.9,65.4 L182.6,59.6 L179.1,54.8 L176.9,50.0 L175.9,45.1 L176.2,40.1 L177.7,34.9 L180.5,29.5 L185.8,22.4 L191.8,15.9 L196.7,12.2 L201.5,9.9 L206.5,8.7 L211.5,8.8 L216.6,10.1 L221.9,12.8 L228.7,18.0 L235.0,23.8 L238.5,28.6 L240.7,33.4 L241.7,38.3 L241.4,43.3 L239.9,48.5 L237.1,53.9Z"/><path d="M306.3,77.5 L301.1,83.2 L297.0,86.6 L293.1,88.9 L289.2,90.2 L285.4,90.5 L281.6,89.9 L277.7,88.2 L272.8,84.7 L268.5,80.5 L266.2,77.0 L264.9,73.4 L264.6,69.5 L265.2,65.4 L266.8,61.2 L269.4,56.6 L274.1,50.5 L279.3,44.8 L283.4,41.4 L287.3,39.1 L291.2,37.8 L295.0,37.5 L298.8,38.1 L302.7,39.8 L307.6,43.3 L311.9,47.5 L314.2,51.0 L315.5,54.6 L315.8,58.5 L315.2,62.6 L313.6,66.8 L311.0,71.4Z"/><path d="M398.4,75.8 L392.4,82.3 L387.5,86.0 L382.7,88.3 L377.7,89.5 L372.7,89.4 L367.6,88.1 L362.3,85.4 L355.5,80.2 L349.2,74.4 L345.7,69.6 L343.5,64.8 L342.5,59.9 L342.8,54.9 L344.3,49.7 L347.1,44.3 L352.4,37.2 L358.4,30.7 L363.3,27.0 L368.1,24.7 L373.1,23.5 L378.1,23.6 L383.2,24.9 L388.5,27.6 L395.3,32.8 L401.6,38.6 L405.1,43.4 L407.3,48.2 L408.3,53.1 L408.0,58.1 L406.5,63.3 L403.7,68.7Z"/><path d="M496.9,74.0 L491.6,79.6 L487.1,82.6 L482.5,84.4 L477.7,84.9 L472.6,84.2 L467.3,82.4 L461.7,79.2 L454.2,73.5 L447.3,67.1 L443.2,62.1 L440.5,57.2 L438.9,52.4 L438.6,47.6 L439.5,42.7 L441.8,37.8 L446.3,31.6 L451.6,26.0 L456.1,23.0 L460.7,21.2 L465.5,20.7 L470.6,21.4 L475.9,23.2 L481.5,26.4 L489.0,32.1 L495.9,38.5 L500.0,43.5 L502.7,48.4 L504.3,53.2 L504.6,58.0 L503.7,62.9 L501.4,67.8Z"/><path d="M591.4,47.8 L586.2,53.5 L582.1,56.9 L578.2,59.2 L574.3,60.5 L570.5,60.8 L566.7,60.2 L562.8,58.5 L557.9,55.0 L553.6,50.8 L551.3,47.3 L550.0,43.7 L549.7,39.8 L550.3,35.7 L551.9,31.5 L554.5,26.9 L559.2,20.8 L564.4,15.1 L568.5,11.7 L572.4,9.4 L576.3,8.1 L580.1,7.8 L583.9,8.4 L587.8,10.1 L592.7,13.6 L597.0,17.8 L599.3,21.3 L600.6,24.9 L600.9,28.8 L600.3,32.9 L598.7,37.1 L596.1,41.7Z"/><path d="M63.8,162.9 L57.0,170.2 L51.5,174.5 L46.1,177.2 L40.6,178.5 L35.1,178.5 L29.4,177.1 L23.5,174.1 L16.0,168.5 L9.1,162.1 L5.3,156.8 L2.9,151.5 L1.9,146.0 L2.3,140.4 L4.0,134.5 L7.2,128.4 L13.2,120.5 L20.0,113.2 L25.5,108.9 L30.9,106.2 L36.4,104.9 L41.9,104.9 L47.6,106.3 L53.5,109.3 L61.0,114.9 L67.9,121.3 L71.7,126.6 L74.1,131.9 L75.1,137.4 L74.7,143.0 L73.0,148.9 L69.8,155.0Z"/><path d="M143.7,146.8 L137.4,153.7 L132.2,157.7 L127.1,160.3 L121.9,161.5 L116.7,161.5 L111.4,160.2 L105.9,157.5 L98.8,152.2 L92.3,146.1 L88.7,141.2 L86.5,136.2 L85.6,131.0 L85.9,125.7 L87.5,120.2 L90.6,114.5 L96.3,107.0 L102.6,100.1 L107.8,96.1 L112.9,93.5 L118.1,92.3 L123.3,92.3 L128.6,93.6 L134.1,96.3 L141.2,101.6 L147.7,107.7 L151.3,112.6 L153.5,117.6 L154.4,122.8 L154.1,128.1 L152.5,133.6 L149.4,139.3Z"/><path d="M245.8,145.5 L239.5,152.5 L234.4,156.5 L229.4,159.2 L224.4,160.5 L219.3,160.7 L214.3,159.6 L209.0,157.1 L202.4,152.2 L196.4,146.5 L193.0,141.8 L191.1,137.0 L190.3,132.0 L190.8,126.8 L192.6,121.4 L195.7,115.7 L201.4,108.3 L207.7,101.3 L212.8,97.3 L217.8,94.6 L222.8,93.3 L227.9,93.1 L232.9,94.2 L238.2,96.7 L244.8,101.6 L250.8,107.3 L254.2,112.0 L256.1,116.8 L256.9,121.8 L256.4,127.0 L254.6,132.4 L251.5,138.1Z"/><path d="M329.4,166.5 L323.4,173.0 L318.6,176.8 L314.0,179.3 L309.3,180.6 L304.6,180.7 L299.8,179.7 L295.0,177.4 L288.8,172.8 L283.2,167.6 L280.1,163.2 L278.3,158.7 L277.6,154.0 L278.1,149.2 L279.7,144.1 L282.7,138.8 L288.0,131.7 L294.0,125.2 L298.8,121.4 L303.4,118.9 L308.1,117.6 L312.8,117.5 L317.6,118.5 L322.4,120.8 L328.6,125.4 L334.2,130.6 L337.3,135.0 L339.1,139.5 L339.8,144.2 L339.3,149.0 L337.7,154.1 L334.7,159.4Z"/><path d="M408.8,196.9 L402.4,203.7 L397.2,207.6 L391.9,210.0 L386.5,211.1 L381.0,210.8 L375.3,209.2 L369.3,206.1 L361.6,200.3 L354.5,193.7 L350.4,188.3 L347.8,183.0 L346.6,177.6 L346.7,172.1 L348.2,166.5 L351.1,160.7 L356.8,153.1 L363.2,146.3 L368.4,142.4 L373.7,140.0 L379.1,138.9 L384.6,139.2 L390.3,140.8 L396.3,143.9 L404.0,149.7 L411.1,156.3 L415.2,161.7 L417.8,167.0 L419.0,172.4 L418.9,177.9 L417.4,183.5 L414.5,189.3Z"/><path d="M466.5,136.4 L460.5,142.8 L455.5,146.5 L450.6,148.8 L445.5,149.7 L440.3,149.5 L435.0,148.0 L429.3,145.0 L422.1,139.5 L415.4,133.3 L411.5,128.3 L409.1,123.3 L408.0,118.2 L408.1,113.1 L409.4,107.8 L412.2,102.3 L417.5,95.2 L423.5,88.8 L428.5,85.1 L433.4,82.8 L438.5,81.9 L443.7,82.1 L449.0,83.6 L454.7,86.6 L461.9,92.1 L468.6,98.3 L472.5,103.3 L474.9,108.3 L476.0,113.4 L475.9,118.5 L474.6,123.8 L471.8,129.3Z"/><path d="M553.0,160.3 L547.0,166.8 L542.2,170.6 L537.4,173.0 L532.6,174.2 L527.6,174.2 L522.7,172.9 L517.5,170.4 L510.9,165.4 L504.8,159.8 L501.4,155.1 L499.4,150.4 L498.5,145.6 L498.8,140.6 L500.4,135.5 L503.2,130.1 L508.6,123.1 L514.6,116.6 L519.4,112.8 L524.2,110.4 L529.0,109.2 L534.0,109.2 L538.9,110.5 L544.1,113.0 L550.7,118.0 L556.8,123.6 L560.2,128.3 L562.2,133.0 L563.1,137.8 L562.8,142.8 L561.2,147.9 L558.4,153.3Z"/><path d="M600.3,223.1 L595.1,228.7 L591.0,232.1 L586.9,234.3 L582.9,235.5 L578.9,235.7 L574.8,234.8 L570.6,232.9 L565.3,229.0 L560.6,224.5 L558.0,220.7 L556.4,216.8 L555.9,212.8 L556.4,208.6 L557.8,204.3 L560.4,199.6 L565.1,193.5 L570.3,187.9 L574.4,184.5 L578.5,182.3 L582.5,181.1 L586.5,180.9 L590.6,181.8 L594.8,183.7 L600.1,187.6 L604.8,192.1 L607.4,195.9 L609.0,199.8 L609.5,203.8 L609.0,208.0 L607.6,212.3 L605.0,217.0Z"/><path d="M77.7,244.2 L72.1,250.2 L67.6,253.7 L63.1,256.0 L58.6,257.1 L54.0,257.1 L49.3,256.0 L44.5,253.6 L38.4,249.0 L32.8,243.7 L29.6,239.4 L27.7,235.0 L26.9,230.5 L27.2,225.9 L28.6,221.1 L31.3,216.0 L36.3,209.4 L41.9,203.4 L46.4,199.9 L50.9,197.6 L55.4,196.5 L60.0,196.5 L64.7,197.6 L69.5,200.0 L75.6,204.6 L81.2,209.9 L84.4,214.2 L86.3,218.6 L87.1,223.1 L86.8,227.7 L85.4,232.5 L82.7,237.6Z"/><path d="M171.2,229.5 L165.1,236.0 L160.2,239.6 L155.2,241.8 L150.0,242.7 L144.7,242.4 L139.2,240.8 L133.5,237.7 L126.0,232.0 L119.1,225.7 L115.1,220.5 L112.5,215.4 L111.3,210.2 L111.3,205.0 L112.6,199.7 L115.3,194.2 L120.6,187.1 L126.7,180.6 L131.6,177.0 L136.6,174.8 L141.8,173.9 L147.1,174.2 L152.6,175.8 L158.3,178.9 L165.8,184.6 L172.7,190.9 L176.7,196.1 L179.3,201.2 L180.5,206.4 L180.5,211.6 L179.2,216.9 L176.5,222.4Z"/><path d="M284.3,239.3 L278.3,245.8 L273.4,249.5 L268.5,251.8 L263.5,252.9 L258.4,252.7 L253.2,251.3 L247.7,248.5 L240.7,243.1 L234.2,237.1 L230.5,232.2 L228.2,227.3 L227.1,222.3 L227.3,217.2 L228.7,212.0 L231.5,206.5 L236.9,199.5 L242.9,193.0 L247.8,189.3 L252.7,187.0 L257.7,185.9 L262.8,186.1 L268.0,187.5 L273.5,190.3 L280.5,195.7 L287.0,201.7 L290.7,206.6 L293.0,211.5 L294.1,216.5 L293.9,221.6 L292.5,226.8 L289.7,232.3Z"/><path d="M493.9,230.2 L487.5,237.0 L482.3,240.9 L477.0,243.3 L471.6,244.4 L466.1,244.1 L460.4,242.5 L454.4,239.4 L446.7,233.6 L439.6,227.0 L435.5,221.6 L432.9,216.3 L431.7,210.9 L431.8,205.4 L433.3,199.8 L436.2,194.0 L441.9,186.4 L448.3,179.6 L453.5,175.7 L458.8,173.3 L464.2,172.2 L469.7,172.5 L475.4,174.1 L481.4,177.2 L489.1,183.0 L496.2,189.6 L500.3,195.0 L502.9,200.3 L504.1,205.7 L504.0,211.2 L502.5,216.8 L499.6,222.6Z"/><path d="M16.4,245.0 L11.4,250.7 L7.6,254.4 L4.3,257.2 L1.2,259.2 L-1.7,260.3 L-4.3,260.7 L-6.7,260.3 L-9.4,258.6 L-11.5,256.3 L-12.4,254.0 L-12.4,251.3 L-11.7,248.3 L-10.4,244.9 L-8.2,241.1 L-5.2,236.8 L-0.4,230.8 L4.6,225.1 L8.4,221.4 L11.7,218.6 L14.8,216.6 L17.7,215.5 L20.3,215.1 L22.7,215.5 L25.4,217.2 L27.5,219.5 L28.4,221.8 L28.4,224.5 L27.7,227.5 L26.4,230.9 L24.2,234.7 L21.2,239.0Z"/><path d="M58.5,328.1 L52.5,334.6 L47.6,338.3 L42.7,340.6 L37.7,341.7 L32.6,341.5 L27.4,340.1 L21.9,337.3 L14.9,331.9 L8.4,325.9 L4.7,321.0 L2.4,316.1 L1.3,311.1 L1.5,306.0 L2.9,300.8 L5.7,295.3 L11.1,288.3 L17.1,281.8 L22.0,278.1 L26.9,275.8 L31.9,274.7 L37.0,274.9 L42.2,276.3 L47.7,279.1 L54.7,284.5 L61.2,290.5 L64.9,295.4 L67.2,300.3 L68.3,305.3 L68.1,310.4 L66.7,315.6 L63.9,321.1Z"/><path d="M147.4,313.3 L141.8,319.4 L137.1,322.8 L132.4,324.8 L127.6,325.7 L122.6,325.4 L117.5,323.8 L112.1,321.0 L105.1,315.6 L98.6,309.6 L94.8,304.8 L92.4,300.0 L91.2,295.2 L91.2,290.2 L92.5,285.3 L95.0,280.1 L100.0,273.5 L105.6,267.4 L110.3,264.0 L115.0,262.0 L119.8,261.1 L124.8,261.4 L129.9,263.0 L135.3,265.8 L142.3,271.2 L148.8,277.2 L152.6,282.0 L155.0,286.8 L156.2,291.6 L156.2,296.6 L154.9,301.5 L152.4,306.7Z"/><path d="M220.6,283.6 L214.2,290.5 L209.3,294.7 L204.5,297.5 L199.8,299.2 L195.2,299.7 L190.6,299.0 L186.0,297.0 L180.2,292.8 L175.1,287.8 L172.3,283.6 L170.8,279.2 L170.5,274.6 L171.3,269.6 L173.2,264.5 L176.5,258.9 L182.2,251.4 L188.6,244.5 L193.5,240.3 L198.3,237.5 L203.0,235.8 L207.6,235.3 L212.2,236.0 L216.8,238.0 L222.6,242.2 L227.7,247.2 L230.5,251.4 L232.0,255.8 L232.3,260.4 L231.5,265.4 L229.6,270.5 L226.3,276.1Z"/><path d="M355.5,310.3 L349.3,316.9 L344.2,320.8 L339.2,323.1 L334.0,324.2 L328.8,324.1 L323.4,322.6 L317.7,319.7 L310.4,314.2 L303.8,308.0 L299.9,302.9 L297.6,297.9 L296.5,292.7 L296.6,287.5 L298.1,282.1 L301.0,276.4 L306.5,269.1 L312.7,262.5 L317.8,258.6 L322.8,256.3 L328.0,255.2 L333.2,255.3 L338.6,256.8 L344.3,259.7 L351.6,265.2 L358.2,271.4 L362.1,276.5 L364.4,281.5 L365.5,286.7 L365.4,291.9 L363.9,297.3 L361.0,303.0Z"/><path d="M455.4,306.6 L449.2,313.2 L444.1,317.1 L439.1,319.4 L433.9,320.5 L428.7,320.4 L423.3,318.9 L417.6,316.0 L410.3,310.5 L403.7,304.3 L399.8,299.2 L397.5,294.2 L396.4,289.0 L396.5,283.8 L398.0,278.4 L400.9,272.7 L406.4,265.4 L412.6,258.8 L417.7,254.9 L422.7,252.6 L427.9,251.5 L433.1,251.6 L438.5,253.1 L444.2,256.0 L451.5,261.5 L458.1,267.7 L462.0,272.8 L464.3,277.8 L465.4,283.0 L465.3,288.2 L463.8,293.6 L460.9,299.3Z"/><path d="M564.9,286.8 L558.9,293.3 L554.0,297.0 L549.2,299.3 L544.2,300.5 L539.2,300.4 L534.1,299.1 L528.8,296.4 L522.0,291.2 L515.7,285.4 L512.2,280.6 L510.0,275.8 L509.0,270.9 L509.3,265.9 L510.8,260.7 L513.6,255.3 L518.9,248.2 L524.9,241.7 L529.8,238.0 L534.6,235.7 L539.6,234.5 L544.6,234.6 L549.7,235.9 L555.0,238.6 L561.8,243.8 L568.1,249.6 L571.6,254.4 L573.8,259.2 L574.8,264.1 L574.5,269.1 L573.0,274.3 L570.2,279.7Z"/><path d="M608.0,333.9 L602.9,339.6 L599.0,343.2 L595.3,345.6 L591.7,347.2 L588.2,347.9 L584.9,347.7 L581.6,346.5 L577.6,343.7 L574.2,340.3 L572.4,337.2 L571.7,334.0 L571.7,330.5 L572.7,326.7 L574.5,322.6 L577.2,318.1 L582.0,312.1 L587.1,306.4 L591.0,302.8 L594.7,300.4 L598.3,298.8 L601.8,298.1 L605.1,298.3 L608.4,299.5 L612.4,302.3 L615.8,305.7 L617.6,308.8 L618.3,312.0 L618.3,315.5 L617.3,319.3 L615.5,323.4 L612.8,327.9Z"/><path d="M163.8,379.2 L159.9,383.0 L156.5,384.9 L152.7,385.7 L148.5,385.4 L144.0,384.1 L139.1,381.8 L133.7,378.4 L126.3,372.6 L119.3,366.3 L114.9,361.6 L111.8,357.1 L109.8,352.9 L108.8,348.9 L108.9,345.0 L110.1,341.2 L113.2,336.8 L117.1,333.0 L120.5,331.1 L124.3,330.3 L128.5,330.6 L133.0,331.9 L137.9,334.2 L143.3,337.6 L150.7,343.4 L157.7,349.7 L162.1,354.4 L165.2,358.9 L167.2,363.1 L168.2,367.1 L168.1,371.0 L166.9,374.8Z"/><path d="M268.5,376.2 L263.5,381.3 L259.3,384.1 L254.9,385.6 L250.3,385.9 L245.3,385.1 L240.2,383.2 L234.6,379.9 L227.1,374.2 L220.2,367.8 L216.0,362.9 L213.2,358.1 L211.5,353.4 L211.0,348.8 L211.7,344.2 L213.7,339.6 L217.9,333.8 L222.9,328.7 L227.1,325.9 L231.5,324.4 L236.1,324.1 L241.1,324.9 L246.2,326.8 L251.8,330.1 L259.3,335.8 L266.2,342.2 L270.4,347.1 L273.2,351.9 L274.9,356.6 L275.4,361.2 L274.7,365.8 L272.7,370.4Z"/><path d="M416.9,367.3 L412.0,372.4 L407.8,375.3 L403.6,376.9 L399.2,377.4 L394.6,376.9 L389.8,375.2 L384.6,372.4 L377.8,367.2 L371.5,361.4 L367.8,356.8 L365.3,352.3 L364.0,347.9 L363.7,343.5 L364.6,339.0 L366.7,334.4 L370.9,328.7 L375.8,323.6 L380.0,320.7 L384.2,319.1 L388.6,318.6 L393.2,319.1 L398.0,320.8 L403.2,323.6 L410.0,328.8 L416.3,334.6 L420.0,339.2 L422.5,343.7 L423.8,348.1 L424.1,352.5 L423.2,357.0 L421.1,361.6Z"/><path d="M536.8,365.6 L531.5,371.1 L527.1,374.2 L522.5,376.0 L517.8,376.6 L512.8,376.0 L507.7,374.3 L502.2,371.2 L494.9,365.7 L488.2,359.5 L484.3,354.6 L481.6,349.9 L480.2,345.1 L480.0,340.3 L480.9,335.5 L483.2,330.6 L487.8,324.4 L493.1,318.9 L497.5,315.8 L502.1,314.0 L506.8,313.4 L511.8,314.0 L516.9,315.7 L522.4,318.8 L529.7,324.3 L536.4,330.5 L540.3,335.4 L543.0,340.1 L544.4,344.9 L544.6,349.7 L543.7,354.5 L541.4,359.4Z"/><path d="M61.2,19.1 L58.9,21.2 L56.6,22.1 L54.1,22.3 L51.3,21.8 L48.1,20.5 L44.5,18.6 L40.5,15.9 L34.9,11.4 L29.6,6.7 L26.2,3.3 L23.7,0.1 L21.9,-2.9 L20.9,-5.6 L20.6,-8.1 L21.1,-10.4 L22.8,-13.1 L25.1,-15.2 L27.4,-16.1 L29.9,-16.3 L32.7,-15.8 L35.9,-14.5 L39.5,-12.6 L43.5,-9.9 L49.1,-5.4 L54.4,-0.7 L57.8,2.7 L60.3,5.9 L62.1,8.9 L63.1,11.6 L63.4,14.1 L62.9,16.4Z"/><path d="M328.0,33.5 L325.9,35.8 L324.2,37.1 L322.4,37.9 L320.6,38.3 L318.8,38.2 L317.0,37.7 L315.0,36.7 L312.5,34.8 L310.2,32.7 L308.9,31.0 L308.1,29.2 L307.7,27.4 L307.8,25.6 L308.3,23.8 L309.3,21.8 L311.2,19.3 L313.3,17.0 L315.0,15.7 L316.8,14.9 L318.6,14.5 L320.4,14.6 L322.2,15.1 L324.2,16.1 L326.7,18.0 L329.0,20.1 L330.3,21.8 L331.1,23.6 L331.5,25.4 L331.4,27.2 L330.9,29.0 L329.9,31.0Z"/><path d="M344.7,232.0 L342.4,234.5 L340.5,236.0 L338.7,237.0 L337.0,237.6 L335.2,237.7 L333.4,237.3 L331.6,236.5 L329.3,234.8 L327.2,232.8 L326.1,231.2 L325.4,229.5 L325.2,227.7 L325.4,225.9 L326.1,223.9 L327.3,221.9 L329.3,219.2 L331.6,216.7 L333.5,215.2 L335.3,214.2 L337.0,213.6 L338.8,213.5 L340.6,213.9 L342.4,214.7 L344.7,216.4 L346.8,218.4 L347.9,220.0 L348.6,221.7 L348.8,223.5 L348.6,225.3 L347.9,227.3 L346.7,229.3Z"/></g>
<g fill="#626262"><ellipse cx="82.8" cy="72.2" rx="12.0" ry="9.0"/><ellipse cx="149.8" cy="149.8" rx="12.0" ry="12.0"/><ellipse cx="155.0" cy="176.0" rx="13.0" ry="10.0"/><ellipse cx="26.4" cy="179.7" rx="12.0" ry="9.0"/><ellipse cx="208.0" cy="153.3" rx="11.0" ry="13.0"/><ellipse cx="259.0" cy="181.5" rx="13.0" ry="9.0"/><ellipse cx="237.9" cy="28.2" rx="12.0" ry="10.0"/><ellipse cx="10.6" cy="10.6" rx="10.0" ry="8.0"/><ellipse cx="126.9" cy="259.0" rx="12.0" ry="10.0"/><ellipse cx="58.0" cy="260.8" rx="12.0" ry="10.0"/><ellipse cx="227.3" cy="274.9" rx="10.0" ry="14.0"/><ellipse cx="243.2" cy="324.2" rx="14.0" ry="9.0"/><ellipse cx="30.0" cy="345.4" rx="13.0" ry="10.0"/><ellipse cx="376.0" cy="89.9" rx="13.0" ry="9.0"/><ellipse cx="478.2" cy="79.3" rx="12.0" ry="10.0"/><ellipse cx="513.5" cy="105.7" rx="12.0" ry="9.0"/><ellipse cx="416.5" cy="158.6" rx="12.0" ry="10.0"/><ellipse cx="451.8" cy="146.3" rx="12.0" ry="9.0"/><ellipse cx="464.0" cy="241.4" rx="12.0" ry="9.0"/><ellipse cx="425.3" cy="260.8" rx="12.0" ry="9.0"/><ellipse cx="508.2" cy="276.7" rx="10.0" ry="13.0"/><ellipse cx="416.5" cy="317.2" rx="12.0" ry="10.0"/><ellipse cx="307.3" cy="114.5" rx="8.0" ry="12.0"/><ellipse cx="312.6" cy="255.5" rx="8.0" ry="10.0"/><ellipse cx="598.0" cy="343.6" rx="8.0" ry="10.0"/></g>
<path d="M155,0 Q165,60 170,110 Q180,160 200,210 Q215,240 240,270 Q270,300 300,345 L310,370" fill="none" stroke="#8f8f8f" stroke-width="19"/>
<path d="M155,0 Q165,60 170,110 Q180,160 200,210 Q215,240 240,270 Q270,300 300,345 L310,370" fill="none" stroke="#666" stroke-width="13"/>
<g fill="none" stroke="#6a6a6a" stroke-width="5"><path d="M520,0 Q560,30 585,90 Q600,120 604,130"/><path d="M540,0 Q585,40 604,75"/><path d="M585,0 Q580,40 600,95"/></g>
<rect x="0" y="0" width="604" height="2" fill="#888"/>
</svg></div>
<div id="img4" class="a" style="left:1307px;top:1746px;width:617px;height:450px;"><svg width="617" height="450" viewBox="0 0 617 450">
<rect width="617" height="450" fill="#fff"/>
<defs>
<mask id="sk0"><path d="M58.3,16.0 C57.0,27.6 50.5,65.2 50.8,85.7 C51.1,106.2 57.6,121.2 60.0,139.0 C62.4,156.8 64.7,176.7 65.3,192.8 C65.9,208.9 65.7,217.7 63.6,235.6 C61.5,253.5 56.0,282.5 52.5,300.0 C49.0,317.5 44.4,333.8 42.8,340.6" stroke="#fff" stroke-width="23" fill="none"/></mask>
<mask id="sk1"><path d="M100.7,21.4 C99.8,32.1 94.4,64.3 95.3,85.7 C96.2,107.1 104.5,132.2 106.0,150.0 C107.5,167.8 105.4,178.5 104.0,192.8 C102.6,207.1 99.1,217.7 97.5,235.6 C95.9,253.5 94.8,282.5 94.3,300.0 C93.8,317.5 94.3,333.8 94.3,340.6" stroke="#fff" stroke-width="23" fill="none"/></mask>
<mask id="sk2"><path d="M145.7,25.7 C144.1,35.7 136.2,65.0 136.0,85.7 C135.8,106.4 142.8,132.2 144.6,150.0 C146.4,167.8 147.0,178.5 146.7,192.8 C146.3,207.1 144.4,217.7 142.5,235.6 C140.6,253.5 136.7,282.1 135.0,300.0 C133.3,317.9 132.7,335.7 132.2,342.8" stroke="#fff" stroke-width="23" fill="none"/></mask>
</defs>
<path d="M58.3,16.0 C57.0,27.6 50.5,65.2 50.8,85.7 C51.1,106.2 57.6,121.2 60.0,139.0 C62.4,156.8 64.7,176.7 65.3,192.8 C65.9,208.9 65.7,217.7 63.6,235.6 C61.5,253.5 56.0,282.5 52.5,300.0 C49.0,317.5 44.4,333.8 42.8,340.6" stroke="#1d2a3a" stroke-width="29" fill="none" stroke-linecap="butt"/>
<path d="M58.3,16.0 C57.0,27.6 50.5,65.2 50.8,85.7 C51.1,106.2 57.6,121.2 60.0,139.0 C62.4,156.8 64.7,176.7 65.3,192.8 C65.9,208.9 65.7,217.7 63.6,235.6 C61.5,253.5 56.0,282.5 52.5,300.0 C49.0,317.5 44.4,333.8 42.8,340.6" stroke="#e8665b" stroke-width="22" fill="none"/>
<g mask="url(#sk0)">
<path d="M40.3,26.0 Q57.3,23.0 74.3,26.0" stroke="#1d2a3a" stroke-width="2.2" fill="none"/>
<path d="M39.0,38.5 Q56.0,35.5 73.0,38.5" stroke="#1d2a3a" stroke-width="2.2" fill="none"/>
<path d="M37.6,51.0 Q54.6,48.0 71.6,51.0" stroke="#1d2a3a" stroke-width="2.2" fill="none"/>
<path d="M36.3,63.5 Q53.3,60.5 70.3,63.5" stroke="#1d2a3a" stroke-width="2.2" fill="none"/>
<path d="M35.0,76.0 Q52.0,73.0 69.0,76.0" stroke="#1d2a3a" stroke-width="2.2" fill="none"/>
<path d="M34.1,88.5 Q51.1,85.5 68.1,88.5" stroke="#1d2a3a" stroke-width="2.2" fill="none"/>
<path d="M36.3,101.0 Q53.3,98.0 70.3,101.0" stroke="#1d2a3a" stroke-width="2.2" fill="none"/>
<path d="M38.4,113.5 Q55.4,110.5 72.4,113.5" stroke="#1d2a3a" stroke-width="2.2" fill="none"/>
<path d="M40.6,126.0 Q57.6,123.0 74.6,126.0" stroke="#1d2a3a" stroke-width="2.2" fill="none"/>
<path d="M42.7,138.5 Q59.7,135.5 76.7,138.5" stroke="#1d2a3a" stroke-width="2.2" fill="none"/>
<path d="M44.1,151.0 Q61.1,148.0 78.1,151.0" stroke="#1d2a3a" stroke-width="2.2" fill="none"/>
<path d="M45.3,163.5 Q62.3,160.5 79.3,163.5" stroke="#1d2a3a" stroke-width="2.2" fill="none"/>
<path d="M46.5,176.0 Q63.5,173.0 80.5,176.0" stroke="#1d2a3a" stroke-width="2.2" fill="none"/>
<path d="M47.8,188.5 Q64.8,185.5 81.8,188.5" stroke="#1d2a3a" stroke-width="2.2" fill="none"/>
<path d="M48.0,201.0 Q65.0,198.0 82.0,201.0" stroke="#1d2a3a" stroke-width="2.2" fill="none"/>
<path d="M47.5,213.5 Q64.5,210.5 81.5,213.5" stroke="#1d2a3a" stroke-width="2.2" fill="none"/>
<path d="M47.0,226.0 Q64.0,223.0 81.0,226.0" stroke="#1d2a3a" stroke-width="2.2" fill="none"/>
<path d="M46.3,238.5 Q63.3,235.5 80.3,238.5" stroke="#1d2a3a" stroke-width="2.2" fill="none"/>
<path d="M44.1,251.0 Q61.1,248.0 78.1,251.0" stroke="#1d2a3a" stroke-width="2.2" fill="none"/>
<path d="M42.0,263.5 Q59.0,260.5 76.0,263.5" stroke="#1d2a3a" stroke-width="2.2" fill="none"/>
<path d="M39.8,276.0 Q56.8,273.0 73.8,276.0" stroke="#1d2a3a" stroke-width="2.2" fill="none"/>
<path d="M37.7,288.5 Q54.7,285.5 71.7,288.5" stroke="#1d2a3a" stroke-width="2.2" fill="none"/>
<path d="M35.5,301.0 Q52.5,298.0 69.5,301.0" stroke="#1d2a3a" stroke-width="2.2" fill="none"/>
<path d="M32.5,313.5 Q49.5,310.5 66.5,313.5" stroke="#1d2a3a" stroke-width="2.2" fill="none"/>
<path d="M29.5,326.0 Q46.5,323.0 63.5,326.0" stroke="#1d2a3a" stroke-width="2.2" fill="none"/>
<ellipse cx="44.1" cy="32.0" rx="12" ry="15" fill="#1d2a3a"/>
<ellipse cx="66.1" cy="60.0" rx="12" ry="15" fill="#1d2a3a"/>
<ellipse cx="38.4" cy="86.0" rx="12" ry="15" fill="#1d2a3a"/>
<ellipse cx="72.2" cy="137.0" rx="12" ry="15" fill="#1d2a3a"/>
<ellipse cx="51.3" cy="178.0" rx="12" ry="15" fill="#1d2a3a"/>
<ellipse cx="77.1" cy="210.0" rx="12" ry="15" fill="#1d2a3a"/>
<ellipse cx="50.7" cy="238.0" rx="12" ry="15" fill="#1d2a3a"/>
<ellipse cx="68.8" cy="278.0" rx="12" ry="15" fill="#1d2a3a"/>
<ellipse cx="37.4" cy="311.0" rx="12" ry="15" fill="#1d2a3a"/>
</g>
<path d="M100.7,21.4 C99.8,32.1 94.4,64.3 95.3,85.7 C96.2,107.1 104.5,132.2 106.0,150.0 C107.5,167.8 105.4,178.5 104.0,192.8 C102.6,207.1 99.1,217.7 97.5,235.6 C95.9,253.5 94.8,282.5 94.3,300.0 C93.8,317.5 94.3,333.8 94.3,340.6" stroke="#1d2a3a" stroke-width="29" fill="none" stroke-linecap="butt"/>
<path d="M100.7,21.4 C99.8,32.1 94.4,64.3 95.3,85.7 C96.2,107.1 104.5,132.2 106.0,150.0 C107.5,167.8 105.4,178.5 104.0,192.8 C102.6,207.1 99.1,217.7 97.5,235.6 C95.9,253.5 94.8,282.5 94.3,300.0 C93.8,317.5 94.3,333.8 94.3,340.6" stroke="#e8665b" stroke-width="22" fill="none"/>
<g mask="url(#sk1)">
<path d="M82.9,31.4 Q99.9,28.4 116.9,31.4" stroke="#1d2a3a" stroke-width="2.2" fill="none"/>
<path d="M81.9,43.9 Q98.9,40.9 115.9,43.9" stroke="#1d2a3a" stroke-width="2.2" fill="none"/>
<path d="M80.8,56.4 Q97.8,53.4 114.8,56.4" stroke="#1d2a3a" stroke-width="2.2" fill="none"/>
<path d="M79.8,68.9 Q96.8,65.9 113.8,68.9" stroke="#1d2a3a" stroke-width="2.2" fill="none"/>
<path d="M78.7,81.4 Q95.7,78.4 112.7,81.4" stroke="#1d2a3a" stroke-width="2.2" fill="none"/>
<path d="M79.5,93.9 Q96.5,90.9 113.5,93.9" stroke="#1d2a3a" stroke-width="2.2" fill="none"/>
<path d="M81.6,106.4 Q98.6,103.4 115.6,106.4" stroke="#1d2a3a" stroke-width="2.2" fill="none"/>
<path d="M83.7,118.9 Q100.7,115.9 117.7,118.9" stroke="#1d2a3a" stroke-width="2.2" fill="none"/>
<path d="M85.7,131.4 Q102.7,128.4 119.7,131.4" stroke="#1d2a3a" stroke-width="2.2" fill="none"/>
<path d="M87.8,143.9 Q104.8,140.9 121.8,143.9" stroke="#1d2a3a" stroke-width="2.2" fill="none"/>
<path d="M88.7,156.4 Q105.7,153.4 122.7,156.4" stroke="#1d2a3a" stroke-width="2.2" fill="none"/>
<path d="M88.2,168.9 Q105.2,165.9 122.2,168.9" stroke="#1d2a3a" stroke-width="2.2" fill="none"/>
<path d="M87.6,181.4 Q104.6,178.4 121.6,181.4" stroke="#1d2a3a" stroke-width="2.2" fill="none"/>
<path d="M87.0,193.9 Q104.0,190.9 121.0,193.9" stroke="#1d2a3a" stroke-width="2.2" fill="none"/>
<path d="M85.1,206.4 Q102.1,203.4 119.1,206.4" stroke="#1d2a3a" stroke-width="2.2" fill="none"/>
<path d="M83.2,218.9 Q100.2,215.9 117.2,218.9" stroke="#1d2a3a" stroke-width="2.2" fill="none"/>
<path d="M81.3,231.4 Q98.3,228.4 115.3,231.4" stroke="#1d2a3a" stroke-width="2.2" fill="none"/>
<path d="M80.1,243.9 Q97.1,240.9 114.1,243.9" stroke="#1d2a3a" stroke-width="2.2" fill="none"/>
<path d="M79.5,256.4 Q96.5,253.4 113.5,256.4" stroke="#1d2a3a" stroke-width="2.2" fill="none"/>
<path d="M78.9,268.9 Q95.9,265.9 112.9,268.9" stroke="#1d2a3a" stroke-width="2.2" fill="none"/>
<path d="M78.3,281.4 Q95.3,278.4 112.3,281.4" stroke="#1d2a3a" stroke-width="2.2" fill="none"/>
<path d="M77.7,293.9 Q94.7,290.9 111.7,293.9" stroke="#1d2a3a" stroke-width="2.2" fill="none"/>
<path d="M77.3,306.4 Q94.3,303.4 111.3,306.4" stroke="#1d2a3a" stroke-width="2.2" fill="none"/>
<path d="M77.3,318.9 Q94.3,315.9 111.3,318.9" stroke="#1d2a3a" stroke-width="2.2" fill="none"/>
<path d="M77.3,331.4 Q94.3,328.4 111.3,331.4" stroke="#1d2a3a" stroke-width="2.2" fill="none"/>
<ellipse cx="112.3" cy="32.0" rx="12" ry="15" fill="#1d2a3a"/>
<ellipse cx="83.5" cy="77.0" rx="12" ry="15" fill="#1d2a3a"/>
<ellipse cx="112.0" cy="111.0" rx="12" ry="15" fill="#1d2a3a"/>
<ellipse cx="93.5" cy="150.0" rx="12" ry="15" fill="#1d2a3a"/>
<ellipse cx="116.7" cy="188.0" rx="12" ry="15" fill="#1d2a3a"/>
<ellipse cx="85.0" cy="236.0" rx="12" ry="15" fill="#1d2a3a"/>
<ellipse cx="108.1" cy="274.0" rx="12" ry="15" fill="#1d2a3a"/>
<ellipse cx="81.8" cy="311.0" rx="12" ry="15" fill="#1d2a3a"/>
</g>
<path d="M145.7,25.7 C144.1,35.7 136.2,65.0 136.0,85.7 C135.8,106.4 142.8,132.2 144.6,150.0 C146.4,167.8 147.0,178.5 146.7,192.8 C146.3,207.1 144.4,217.7 142.5,235.6 C140.6,253.5 136.7,282.1 135.0,300.0 C133.3,317.9 132.7,335.7 132.2,342.8" stroke="#1d2a3a" stroke-width="29" fill="none" stroke-linecap="butt"/>
<path d="M145.7,25.7 C144.1,35.7 136.2,65.0 136.0,85.7 C135.8,106.4 142.8,132.2 144.6,150.0 C146.4,167.8 147.0,178.5 146.7,192.8 C146.3,207.1 144.4,217.7 142.5,235.6 C140.6,253.5 136.7,282.1 135.0,300.0 C133.3,317.9 132.7,335.7 132.2,342.8" stroke="#e8665b" stroke-width="22" fill="none"/>
<g mask="url(#sk2)">
<path d="M127.2,35.7 Q144.2,32.7 161.2,35.7" stroke="#1d2a3a" stroke-width="2.2" fill="none"/>
<path d="M125.2,48.2 Q142.2,45.2 159.2,48.2" stroke="#1d2a3a" stroke-width="2.2" fill="none"/>
<path d="M123.2,60.7 Q140.2,57.7 157.2,60.7" stroke="#1d2a3a" stroke-width="2.2" fill="none"/>
<path d="M121.2,73.2 Q138.2,70.2 155.2,73.2" stroke="#1d2a3a" stroke-width="2.2" fill="none"/>
<path d="M119.2,85.7 Q136.2,82.7 153.2,85.7" stroke="#1d2a3a" stroke-width="2.2" fill="none"/>
<path d="M120.5,98.2 Q137.5,95.2 154.5,98.2" stroke="#1d2a3a" stroke-width="2.2" fill="none"/>
<path d="M122.2,110.7 Q139.2,107.7 156.2,110.7" stroke="#1d2a3a" stroke-width="2.2" fill="none"/>
<path d="M123.9,123.2 Q140.9,120.2 157.9,123.2" stroke="#1d2a3a" stroke-width="2.2" fill="none"/>
<path d="M125.6,135.7 Q142.6,132.7 159.6,135.7" stroke="#1d2a3a" stroke-width="2.2" fill="none"/>
<path d="M127.2,148.2 Q144.2,145.2 161.2,148.2" stroke="#1d2a3a" stroke-width="2.2" fill="none"/>
<path d="M128.1,160.7 Q145.1,157.7 162.1,160.7" stroke="#1d2a3a" stroke-width="2.2" fill="none"/>
<path d="M128.7,173.2 Q145.7,170.2 162.7,173.2" stroke="#1d2a3a" stroke-width="2.2" fill="none"/>
<path d="M129.3,185.7 Q146.3,182.7 163.3,185.7" stroke="#1d2a3a" stroke-width="2.2" fill="none"/>
<path d="M129.3,198.2 Q146.3,195.2 163.3,198.2" stroke="#1d2a3a" stroke-width="2.2" fill="none"/>
<path d="M128.0,210.7 Q145.0,207.7 162.0,210.7" stroke="#1d2a3a" stroke-width="2.2" fill="none"/>
<path d="M126.8,223.2 Q143.8,220.2 160.8,223.2" stroke="#1d2a3a" stroke-width="2.2" fill="none"/>
<path d="M125.6,235.7 Q142.6,232.7 159.6,235.7" stroke="#1d2a3a" stroke-width="2.2" fill="none"/>
<path d="M124.1,248.2 Q141.1,245.2 158.1,248.2" stroke="#1d2a3a" stroke-width="2.2" fill="none"/>
<path d="M122.7,260.7 Q139.7,257.7 156.7,260.7" stroke="#1d2a3a" stroke-width="2.2" fill="none"/>
<path d="M121.2,273.2 Q138.2,270.2 155.2,273.2" stroke="#1d2a3a" stroke-width="2.2" fill="none"/>
<path d="M119.8,285.7 Q136.8,282.7 153.8,285.7" stroke="#1d2a3a" stroke-width="2.2" fill="none"/>
<path d="M118.3,298.2 Q135.3,295.2 152.3,298.2" stroke="#1d2a3a" stroke-width="2.2" fill="none"/>
<path d="M117.4,310.7 Q134.4,307.7 151.4,310.7" stroke="#1d2a3a" stroke-width="2.2" fill="none"/>
<path d="M116.5,323.2 Q133.5,320.2 150.5,323.2" stroke="#1d2a3a" stroke-width="2.2" fill="none"/>
<path d="M115.7,335.7 Q132.7,332.7 149.7,335.7" stroke="#1d2a3a" stroke-width="2.2" fill="none"/>
<ellipse cx="156.1" cy="38.6" rx="12" ry="15" fill="#1d2a3a"/>
<ellipse cx="124.1" cy="90.0" rx="12" ry="15" fill="#1d2a3a"/>
<ellipse cx="155.4" cy="137.0" rx="12" ry="15" fill="#1d2a3a"/>
<ellipse cx="133.1" cy="171.0" rx="12" ry="15" fill="#1d2a3a"/>
<ellipse cx="157.7" cy="208.0" rx="12" ry="15" fill="#1d2a3a"/>
<ellipse cx="128.8" cy="246.0" rx="12" ry="15" fill="#1d2a3a"/>
<ellipse cx="149.2" cy="285.0" rx="12" ry="15" fill="#1d2a3a"/>
<ellipse cx="121.4" cy="317.0" rx="12" ry="15" fill="#1d2a3a"/>
</g>
<path d="M198.3,20.3 C203.8,30.6 224.0,60.4 230.9,81.8 C237.9,103.3 237.6,125.6 240.0,148.8 C242.4,172.1 241.5,198.6 245.4,221.2 C249.3,243.9 258.1,260.5 263.5,284.6 C268.9,308.7 275.6,352.5 278.0,366.1" stroke="#1d2a3a" stroke-width="4.2" fill="none" stroke-linecap="round"/>
<path d="M230.9,81.8 C232.4,93.0 237.6,125.6 240.0,148.8 C242.4,172.1 241.5,198.6 245.4,221.2 C249.3,243.9 260.5,274.0 263.5,284.6" stroke="#1d2a3a" stroke-width="12" fill="none" stroke-linecap="round"/>
<path d="M227.3,12.1 C230.6,18.6 242.1,32.8 247.2,51.1 C252.4,69.3 256.0,96.3 258.1,121.7 C260.2,147.0 261.1,177.5 259.9,203.1 C258.7,228.8 254.2,253.5 250.8,275.5 C247.5,297.6 241.8,325.3 240.0,335.3" stroke="#1d2a3a" stroke-width="4.2" fill="none" stroke-linecap="round"/>
<path d="M247.2,51.1 C249.0,62.8 256.0,96.3 258.1,121.7 C260.2,147.0 261.1,177.5 259.9,203.1 C258.7,228.8 252.4,263.5 250.8,275.5" stroke="#1d2a3a" stroke-width="12" fill="none" stroke-linecap="round"/>
<path d="M256.3,16.7 C254.2,24.5 249.6,46.2 243.6,63.7 C237.6,81.2 225.5,101.5 220.1,121.7 C214.6,141.9 211.3,163.9 211.0,185.0 C210.7,206.1 215.5,230.3 218.3,248.4 C221.0,266.5 225.5,277.1 227.3,293.6 C229.1,310.2 228.8,338.9 229.1,348.0" stroke="#1d2a3a" stroke-width="4.2" fill="none" stroke-linecap="round"/>
<path d="M243.6,63.7 C239.7,73.4 225.5,101.5 220.1,121.7 C214.6,141.9 211.3,163.9 211.0,185.0 C210.7,206.1 215.5,230.3 218.3,248.4 C221.0,266.5 225.8,286.1 227.3,293.6" stroke="#1d2a3a" stroke-width="12" fill="none" stroke-linecap="round"/>
<path d="M272.6,14.9 C272.3,22.1 269.2,45.0 270.8,58.3 C272.3,71.6 276.8,79.4 281.6,94.5 C286.4,109.6 295.5,130.7 299.7,148.8 C303.9,166.9 308.8,183.5 307.0,203.1 C305.2,222.7 297.0,243.0 288.9,266.5 C280.7,290.0 263.2,331.4 258.1,344.3" stroke="#1d2a3a" stroke-width="4.2" fill="none" stroke-linecap="round"/>
<path d="M270.8,58.3 C272.6,64.3 276.8,79.4 281.6,94.5 C286.4,109.6 295.5,130.7 299.7,148.8 C303.9,166.9 308.8,183.5 307.0,203.1 C305.2,222.7 291.9,255.9 288.9,266.5" stroke="#1d2a3a" stroke-width="12" fill="none" stroke-linecap="round"/>
<path d="M297.9,13.1 C295.8,22.1 290.4,49.3 285.2,67.4 C280.1,85.5 271.1,102.1 267.1,121.7 C263.2,141.3 261.7,162.4 261.7,185.0 C261.7,207.7 265.0,236.3 267.1,257.4 C269.2,278.6 277.4,298.8 274.4,311.7 C271.4,324.7 253.3,331.4 249.0,335.3" stroke="#1d2a3a" stroke-width="4.2" fill="none" stroke-linecap="round"/>
<path d="M285.2,67.4 C282.2,76.4 271.1,102.1 267.1,121.7 C263.2,141.3 261.7,162.4 261.7,185.0 C261.7,207.7 265.0,236.3 267.1,257.4 C269.2,278.6 273.2,302.7 274.4,311.7" stroke="#1d2a3a" stroke-width="12" fill="none" stroke-linecap="round"/>
<path d="M316.0,16.7 C315.1,23.6 310.3,42.3 310.6,58.3 C310.9,74.3 314.5,94.5 317.8,112.6 C321.1,130.7 327.5,148.8 330.5,166.9 C333.5,185.0 338.6,203.1 335.9,221.2 C333.2,239.3 323.9,258.0 314.2,275.5 C304.5,293.0 284.0,317.8 278.0,326.2" stroke="#1d2a3a" stroke-width="4.2" fill="none" stroke-linecap="round"/>
<path d="M310.6,58.3 C311.8,67.4 314.5,94.5 317.8,112.6 C321.1,130.7 327.5,148.8 330.5,166.9 C333.5,185.0 338.6,203.1 335.9,221.2 C333.2,239.3 317.8,266.5 314.2,275.5" stroke="#1d2a3a" stroke-width="12" fill="none" stroke-linecap="round"/>
<path d="M326.9,18.5 C327.8,25.1 333.2,42.6 332.3,58.3 C331.4,74.0 326.9,94.5 321.4,112.6 C316.0,130.7 302.7,148.8 299.7,166.9 C296.7,185.0 299.4,203.1 303.3,221.2 C307.3,239.3 321.1,255.3 323.3,275.5 C325.4,295.8 317.2,331.4 316.0,342.5" stroke="#1d2a3a" stroke-width="4.2" fill="none" stroke-linecap="round"/>
<path d="M332.3,58.3 C330.5,67.4 326.9,94.5 321.4,112.6 C316.0,130.7 302.7,148.8 299.7,166.9 C296.7,185.0 299.4,203.1 303.3,221.2 C307.3,239.3 319.9,266.5 323.3,275.5" stroke="#1d2a3a" stroke-width="12" fill="none" stroke-linecap="round"/>
<path d="M187.5,344.3 C192.6,337.4 209.2,318.7 218.3,302.7 C227.3,286.7 236.1,268.0 241.8,248.4 C247.5,228.8 250.8,195.6 252.7,185.0" stroke="#1d2a3a" stroke-width="4.2" fill="none" stroke-linecap="round"/>
<path d="M218.3,302.7 C222.2,293.6 237.9,257.4 241.8,248.4" stroke="#1d2a3a" stroke-width="12" fill="none" stroke-linecap="round"/>
<path d="M230.9,81.8 C232.4,93.0 237.6,125.6 240.0,148.8 C242.4,172.1 241.5,198.6 245.4,221.2 C249.3,243.9 260.5,274.0 263.5,284.6" stroke="#e8665b" stroke-width="6.5" fill="none" stroke-linecap="round"/>
<path d="M247.2,51.1 C249.0,62.8 256.0,96.3 258.1,121.7 C260.2,147.0 261.1,177.5 259.9,203.1 C258.7,228.8 252.4,263.5 250.8,275.5" stroke="#e8665b" stroke-width="6.5" fill="none" stroke-linecap="round"/>
<path d="M243.6,63.7 C239.7,73.4 225.5,101.5 220.1,121.7 C214.6,141.9 211.3,163.9 211.0,185.0 C210.7,206.1 215.5,230.3 218.3,248.4 C221.0,266.5 225.8,286.1 227.3,293.6" stroke="#e8665b" stroke-width="6.5" fill="none" stroke-linecap="round"/>
<path d="M270.8,58.3 C272.6,64.3 276.8,79.4 281.6,94.5 C286.4,109.6 295.5,130.7 299.7,148.8 C303.9,166.9 308.8,183.5 307.0,203.1 C305.2,222.7 291.9,255.9 288.9,266.5" stroke="#e8665b" stroke-width="6.5" fill="none" stroke-linecap="round"/>
<path d="M285.2,67.4 C282.2,76.4 271.1,102.1 267.1,121.7 C263.2,141.3 261.7,162.4 261.7,185.0 C261.7,207.7 265.0,236.3 267.1,257.4 C269.2,278.6 273.2,302.7 274.4,311.7" stroke="#e8665b" stroke-width="6.5" fill="none" stroke-linecap="round"/>
<path d="M310.6,58.3 C311.8,67.4 314.5,94.5 317.8,112.6 C321.1,130.7 327.5,148.8 330.5,166.9 C333.5,185.0 338.6,203.1 335.9,221.2 C333.2,239.3 317.8,266.5 314.2,275.5" stroke="#e8665b" stroke-width="6.5" fill="none" stroke-linecap="round"/>
<path d="M332.3,58.3 C330.5,67.4 326.9,94.5 321.4,112.6 C316.0,130.7 302.7,148.8 299.7,166.9 C296.7,185.0 299.4,203.1 303.3,221.2 C307.3,239.3 319.9,266.5 323.3,275.5" stroke="#e8665b" stroke-width="6.5" fill="none" stroke-linecap="round"/>
<path d="M218.3,302.7 C222.2,293.6 237.9,257.4 241.8,248.4" stroke="#e8665b" stroke-width="6.5" fill="none" stroke-linecap="round"/>
<defs><mask id="myo"><path d="M388.9,25.2 Q400,19 412,26.5 Q425,20 438.3,27.6 C439,62 446,110 455,152.7 C458,110 462,62 469.4,30 Q481,23 493,29.5 Q506,22 519.6,28.4 C521,78 516,138 514.9,175 C520,138 527,78 538,30 Q547,24 556,29.5 Q565,24 573.9,30 C573,78 574,120 575.5,160.7 C580,120 586,70 592.2,31.5 Q603,26 612.9,34.7 C606,60 600,100 598.6,125.6 C596,160 597,190 598.6,204 C600,240 604,300 608.1,349 Q596,358 581,349.1 C579,300 579,270 579.4,251.8 C574,290 568,330 565.1,352.3 Q556,359 544.4,353.9 C546,320 548,280 550.7,258.2 C542,290 532,330 525.2,358.7 Q514,365 503,357.5 Q492,364 480.6,357 C474,330 466,300 461.4,282 C462,310 464,335 464.6,355.5 Q452,362 440.7,355.5 C437,320 436,260 437.5,208.8 C433,260 432,320 432.7,350.7 Q422,358 412,352.3 C408,330 403,305 400.8,291.7 C399,310 398,335 396.9,350.7 Q386,358 375.3,350.7 C374,320 378,280 383.3,259.8 C386,240 387,220 386.5,204 C384,180 381,165 381.7,157.5 C382,140 384,120 383.3,125.6 C386,100 392,70 391.3,61.8 C390,50 389,35 388.9,25.2 Z" fill="#fff"/><path d="M414.4,74.6 Q439.6,137.2 410.4,231.1 Q395.6,137.2 414.4,74.6 Z" fill="#000" stroke="#000" stroke-width="4"/><path d="M493.3,41.1 Q506.5,94.3 491.7,170.3 Q484.5,94.3 493.3,41.1 Z" fill="#000" stroke="#000" stroke-width="4"/><path d="M548.3,119.2 Q572.0,178.5 531.6,251.8 Q530.0,178.5 548.3,119.2 Z" fill="#000" stroke="#000" stroke-width="4"/><path d="M477.0,192.8 Q519.2,267.8 496.5,331.6 Q465.2,261.8 477.0,192.8 Z" fill="#000" stroke="#000" stroke-width="4"/></mask></defs>
<path d="M388.9,25.2 Q400,19 412,26.5 Q425,20 438.3,27.6 C439,62 446,110 455,152.7 C458,110 462,62 469.4,30 Q481,23 493,29.5 Q506,22 519.6,28.4 C521,78 516,138 514.9,175 C520,138 527,78 538,30 Q547,24 556,29.5 Q565,24 573.9,30 C573,78 574,120 575.5,160.7 C580,120 586,70 592.2,31.5 Q603,26 612.9,34.7 C606,60 600,100 598.6,125.6 C596,160 597,190 598.6,204 C600,240 604,300 608.1,349 Q596,358 581,349.1 C579,300 579,270 579.4,251.8 C574,290 568,330 565.1,352.3 Q556,359 544.4,353.9 C546,320 548,280 550.7,258.2 C542,290 532,330 525.2,358.7 Q514,365 503,357.5 Q492,364 480.6,357 C474,330 466,300 461.4,282 C462,310 464,335 464.6,355.5 Q452,362 440.7,355.5 C437,320 436,260 437.5,208.8 C433,260 432,320 432.7,350.7 Q422,358 412,352.3 C408,330 403,305 400.8,291.7 C399,310 398,335 396.9,350.7 Q386,358 375.3,350.7 C374,320 378,280 383.3,259.8 C386,240 387,220 386.5,204 C384,180 381,165 381.7,157.5 C382,140 384,120 383.3,125.6 C386,100 392,70 391.3,61.8 C390,50 389,35 388.9,25.2 Z" fill="#e8665b" stroke="#1d2a3a" stroke-width="4.5" stroke-linejoin="round"/>
<path d="M414.4,74.6 Q439.6,137.2 410.4,231.1 Q395.6,137.2 414.4,74.6 Z" fill="#fff" stroke="#1d2a3a" stroke-width="4"/>
<path d="M493.3,41.1 Q506.5,94.3 491.7,170.3 Q484.5,94.3 493.3,41.1 Z" fill="#fff" stroke="#1d2a3a" stroke-width="4"/>
<path d="M548.3,119.2 Q572.0,178.5 531.6,251.8 Q530.0,178.5 548.3,119.2 Z" fill="#fff" stroke="#1d2a3a" stroke-width="4"/>
<path d="M477.0,192.8 Q519.2,267.8 496.5,331.6 Q465.2,261.8 477.0,192.8 Z" fill="#fff" stroke="#1d2a3a" stroke-width="4"/>
<g mask="url(#myo)" stroke="#1d2a3a" stroke-width="2.4" fill="none">
<path d="M370.0,42.0 q12,-4 24,0 q12,-4 24,0 q12,-4 24,0 q12,-4 24,0 q12,-4 24,0 q12,-4 24,0 q12,-4 24,0 q12,-4 24,0 q12,-4 24,0 q12,-4 24,0 q12,-4 24,0"/>
<path d="M370.0,57.5 q12,4 24,0 q12,4 24,0 q12,4 24,0 q12,4 24,0 q12,4 24,0 q12,4 24,0 q12,4 24,0 q12,4 24,0 q12,4 24,0 q12,4 24,0 q12,4 24,0"/>
<path d="M370.0,73.0 q12,-4 24,0 q12,-4 24,0 q12,-4 24,0 q12,-4 24,0 q12,-4 24,0 q12,-4 24,0 q12,-4 24,0 q12,-4 24,0 q12,-4 24,0 q12,-4 24,0 q12,-4 24,0"/>
<path d="M370.0,88.5 q12,4 24,0 q12,4 24,0 q12,4 24,0 q12,4 24,0 q12,4 24,0 q12,4 24,0 q12,4 24,0 q12,4 24,0 q12,4 24,0 q12,4 24,0 q12,4 24,0"/>
<path d="M370.0,104.0 q12,-4 24,0 q12,-4 24,0 q12,-4 24,0 q12,-4 24,0 q12,-4 24,0 q12,-4 24,0 q12,-4 24,0 q12,-4 24,0 q12,-4 24,0 q12,-4 24,0 q12,-4 24,0"/>
<path d="M370.0,119.5 q12,4 24,0 q12,4 24,0 q12,4 24,0 q12,4 24,0 q12,4 24,0 q12,4 24,0 q12,4 24,0 q12,4 24,0 q12,4 24,0 q12,4 24,0 q12,4 24,0"/>
<path d="M370.0,135.0 q12,-4 24,0 q12,-4 24,0 q12,-4 24,0 q12,-4 24,0 q12,-4 24,0 q12,-4 24,0 q12,-4 24,0 q12,-4 24,0 q12,-4 24,0 q12,-4 24,0 q12,-4 24,0"/>
<path d="M370.0,150.5 q12,4 24,0 q12,4 24,0 q12,4 24,0 q12,4 24,0 q12,4 24,0 q12,4 24,0 q12,4 24,0 q12,4 24,0 q12,4 24,0 q12,4 24,0 q12,4 24,0"/>
<path d="M370.0,166.0 q12,-4 24,0 q12,-4 24,0 q12,-4 24,0 q12,-4 24,0 q12,-4 24,0 q12,-4 24,0 q12,-4 24,0 q12,-4 24,0 q12,-4 24,0 q12,-4 24,0 q12,-4 24,0"/>
<path d="M370.0,181.5 q12,4 24,0 q12,4 24,0 q12,4 24,0 q12,4 24,0 q12,4 24,0 q12,4 24,0 q12,4 24,0 q12,4 24,0 q12,4 24,0 q12,4 24,0 q12,4 24,0"/>
<path d="M370.0,197.0 q12,-4 24,0 q12,-4 24,0 q12,-4 24,0 q12,-4 24,0 q12,-4 24,0 q12,-4 24,0 q12,-4 24,0 q12,-4 24,0 q12,-4 24,0 q12,-4 24,0 q12,-4 24,0"/>
<path d="M370.0,212.5 q12,4 24,0 q12,4 24,0 q12,4 24,0 q12,4 24,0 q12,4 24,0 q12,4 24,0 q12,4 24,0 q12,4 24,0 q12,4 24,0 q12,4 24,0 q12,4 24,0"/>
<path d="M370.0,228.0 q12,-4 24,0 q12,-4 24,0 q12,-4 24,0 q12,-4 24,0 q12,-4 24,0 q12,-4 24,0 q12,-4 24,0 q12,-4 24,0 q12,-4 24,0 q12,-4 24,0 q12,-4 24,0"/>
<path d="M370.0,243.5 q12,4 24,0 q12,4 24,0 q12,4 24,0 q12,4 24,0 q12,4 24,0 q12,4 24,0 q12,4 24,0 q12,4 24,0 q12,4 24,0 q12,4 24,0 q12,4 24,0"/>
<path d="M370.0,259.0 q12,-4 24,0 q12,-4 24,0 q12,-4 24,0 q12,-4 24,0 q12,-4 24,0 q12,-4 24,0 q12,-4 24,0 q12,-4 24,0 q12,-4 24,0 q12,-4 24,0 q12,-4 24,0"/>
<path d="M370.0,274.5 q12,4 24,0 q12,4 24,0 q12,4 24,0 q12,4 24,0 q12,4 24,0 q12,4 24,0 q12,4 24,0 q12,4 24,0 q12,4 24,0 q12,4 24,0 q12,4 24,0"/>
<path d="M370.0,290.0 q12,-4 24,0 q12,-4 24,0 q12,-4 24,0 q12,-4 24,0 q12,-4 24,0 q12,-4 24,0 q12,-4 24,0 q12,-4 24,0 q12,-4 24,0 q12,-4 24,0 q12,-4 24,0"/>
<path d="M370.0,305.5 q12,4 24,0 q12,4 24,0 q12,4 24,0 q12,4 24,0 q12,4 24,0 q12,4 24,0 q12,4 24,0 q12,4 24,0 q12,4 24,0 q12,4 24,0 q12,4 24,0"/>
<path d="M370.0,321.0 q12,-4 24,0 q12,-4 24,0 q12,-4 24,0 q12,-4 24,0 q12,-4 24,0 q12,-4 24,0 q12,-4 24,0 q12,-4 24,0 q12,-4 24,0 q12,-4 24,0 q12,-4 24,0"/>
<path d="M370.0,336.5 q12,4 24,0 q12,4 24,0 q12,4 24,0 q12,4 24,0 q12,4 24,0 q12,4 24,0 q12,4 24,0 q12,4 24,0 q12,4 24,0 q12,4 24,0 q12,4 24,0"/>
</g>
<g fill="#1d2a3a" mask="url(#myo)">
<ellipse cx="397.8" cy="42.8" rx="5.5" ry="11"/>
<ellipse cx="425.7" cy="75.0" rx="5.5" ry="11"/>
<ellipse cx="400.0" cy="107.1" rx="5.5" ry="11"/>
<ellipse cx="438.5" cy="128.5" rx="5.5" ry="11"/>
<ellipse cx="389.3" cy="167.1" rx="5.5" ry="11"/>
<ellipse cx="466.4" cy="175.7" rx="5.5" ry="11"/>
<ellipse cx="524.2" cy="184.2" rx="5.5" ry="11"/>
<ellipse cx="427.8" cy="201.4" rx="5.5" ry="11"/>
<ellipse cx="400.0" cy="235.6" rx="5.5" ry="11"/>
<ellipse cx="447.1" cy="242.1" rx="5.5" ry="11"/>
<ellipse cx="415.0" cy="272.1" rx="5.5" ry="11"/>
<ellipse cx="468.5" cy="278.5" rx="5.5" ry="11"/>
<ellipse cx="382.8" cy="299.9" rx="5.5" ry="11"/>
<ellipse cx="412.8" cy="327.8" rx="5.5" ry="11"/>
<ellipse cx="447.1" cy="329.9" rx="5.5" ry="11"/>
<ellipse cx="522.1" cy="317.1" rx="5.5" ry="11"/>
<ellipse cx="475.0" cy="55.7" rx="5.5" ry="11"/>
<ellipse cx="511.4" cy="64.3" rx="5.5" ry="11"/>
<ellipse cx="509.2" cy="109.3" rx="5.5" ry="11"/>
<ellipse cx="477.1" cy="126.4" rx="5.5" ry="11"/>
<ellipse cx="545.7" cy="40.7" rx="5.5" ry="11"/>
<ellipse cx="562.8" cy="77.1" rx="5.5" ry="11"/>
<ellipse cx="537.1" cy="105.0" rx="5.5" ry="11"/>
<ellipse cx="564.9" cy="141.4" rx="5.5" ry="11"/>
<ellipse cx="558.5" cy="207.8" rx="5.5" ry="11"/>
<ellipse cx="590.6" cy="227.1" rx="5.5" ry="11"/>
<ellipse cx="599.2" cy="40.7" rx="5.5" ry="11"/>
<ellipse cx="597.1" cy="92.1" rx="5.5" ry="11"/>
<ellipse cx="541.4" cy="265.6" rx="5.5" ry="11"/>
<ellipse cx="564.9" cy="282.8" rx="5.5" ry="11"/>
<ellipse cx="592.8" cy="289.2" rx="5.5" ry="11"/>
<ellipse cx="554.2" cy="329.9" rx="5.5" ry="11"/>
<ellipse cx="601.4" cy="334.2" rx="5.5" ry="11"/>
<ellipse cx="505.0" cy="233.5" rx="5.5" ry="11"/>
</g>
<g font-family="Liberation Sans, sans-serif" font-weight="bold" font-size="27" fill="#262a35">
<text x="18" y="422" textLength="145" lengthAdjust="spacingAndGlyphs">скелетная</text>
<text x="216" y="422" textLength="112" lengthAdjust="spacingAndGlyphs">гладкая</text>
<text x="440.5" y="422" textLength="128" lengthAdjust="spacingAndGlyphs">миокард</text>
</g></svg></div>

<!-- grid -->
<div class="hl" style="top:512px"></div>
<div class="hl" style="top:629px"></div>
<div class="hl" style="top:988px"></div>
<div class="hl" style="top:1372px"></div>
<div class="hl" style="top:1744px"></div>
<div class="hl" style="top:2196px"></div>
<div class="vl" style="left:30px"></div>
<div class="vl" style="left:201px"></div>
<div class="vl" style="left:585px"></div>
<div class="vl" style="left:1283px"></div>
<div class="vl" style="left:2091px"></div>

<!-- header -->
<div class="t c h" style="left:204px;width:381px;top:516px;">Ткань</div>
<div class="t c h" style="left:33px;width:168px;top:516px;">№<br>п/п</div>
<div class="t c h" style="left:588px;width:695px;top:516px;">Характерные особенности</div>
<div class="t c h" style="left:1286px;width:805px;top:516px;">Рисунок</div>

<!-- row1 -->
<div class="t c" style="left:33px;width:168px;top:783px;">1</div>
<div class="t c" style="left:204px;width:381px;top:754px;">Эпителиальная<br>ткань</div>
<div class="t" style="left:610px;top:633px;">Плотно прижатые клетки,<br>почти отсутствует<br>межклеточное вещество</div>
<!-- row2 -->
<div class="t c" style="left:33px;width:168px;top:1154px;">2</div>
<div class="t c" style="left:204px;width:381px;top:1154px;">Нервная ткань</div>
<div class="t" style="left:610px;top:992px;">Состоит из клеток с<br>отростками, есть<br>межклеточное вещество</div>
<!-- row3 -->
<div class="t c" style="left:33px;width:168px;top:1532px;">3</div>
<div class="t c" style="left:204px;width:381px;top:1504px;">Соединительна<br>я ткань</div>
<div class="t" style="left:610px;top:1376px;">Сильно развито<br>межклеточное вещество, в<br>котором клетки как бы<br>разбросаны</div>
<!-- row4 -->
<div class="t c" style="left:33px;width:168px;top:1944px;">4</div>
<div class="t c" style="left:204px;width:381px;top:1916px;">Мышечная<br>ткань</div>
<div class="t" style="left:610px;top:1748px;">Веретенообразные клетки,<br>либо многоядерные клетки</div>

<!-- conclusion -->
<div class="p" style="top:2271px;font-weight:normal;"><span style="display:inline-block;width:148px"></span><b>Вывод:</b> Каждая ткань выполняет определённые функции, исходя из</div>
<div class="p" style="top:2349px;font-weight:normal;text-align:left;text-align-last:left;">своего строения.</div>

<!-- watermarks -->
<div class="w" style="left:556.2px;top:27.8px;">gdz.top</div>
<div class="w" style="left:840.8px;top:183.3px;">gdz.top</div>
<div class="w" style="left:104.8px;top:416.0px;">gdz.top</div>
<div class="w" style="left:1853.2px;top:340.6px;">gdz.top</div>
<div class="w" style="left:1268.9px;top:464.4px;">gdz.top</div>
<div class="w" style="left:980.3px;top:579.0px;">gdz.top</div>
<div class="w" style="left:1496.8px;top:639.9px;">gdz.top</div>
<div class="w" style="left:1780.4px;top:938.6px;">gdz.top</div>
<div class="w" style="left:104.8px;top:760.0px;">gdz.top</div>
<div class="w" style="left:476.4px;top:891.4px;">gdz.top</div>
<div class="w" style="left:1408.4px;top:996.2px;">gdz.top</div>
<div class="w" style="left:1936.9px;top:1128.1px;">gdz.top</div>
<div class="w" style="left:139.8px;top:1251.0px;">gdz.top</div>
<div class="w" style="left:753.4px;top:1334.0px;">gdz.top</div>
<div class="w" style="left:312.5px;top:1437.0px;">gdz.top</div>
<div class="w" style="left:363.8px;top:1613.4px;">gdz.top</div>
<div class="w" style="left:1920.7px;top:1509.1px;">gdz.top</div>
<div class="w" style="left:1764.5px;top:1721.7px;">gdz.top</div>
<div class="w" style="left:132.5px;top:1783.6px;">gdz.top</div>
<div class="w" style="left:252.3px;top:2039.3px;">gdz.top</div>
<div class="w" style="left:753.4px;top:1980.5px;">gdz.top</div>
<div class="w" style="left:1860.8px;top:2199.7px;">gdz.top</div>
<div class="w" style="left:17.0px;top:2247.3px;">gdz.top</div>
<div class="w" style="left:1620.8px;top:2382.4px;">gdz.top</div>
<div class="w" style="left:929.2px;top:2432.4px;">gdz.top</div>
<div class="a" style="left:936px;top:2488px;font-family:'Liberation Sans',sans-serif;font-size:17.8px;line-height:20px;color:#4a1c8c;white-space:pre;">gdz top  //  гдз топ  //  гдз top</div>
</body></html>
